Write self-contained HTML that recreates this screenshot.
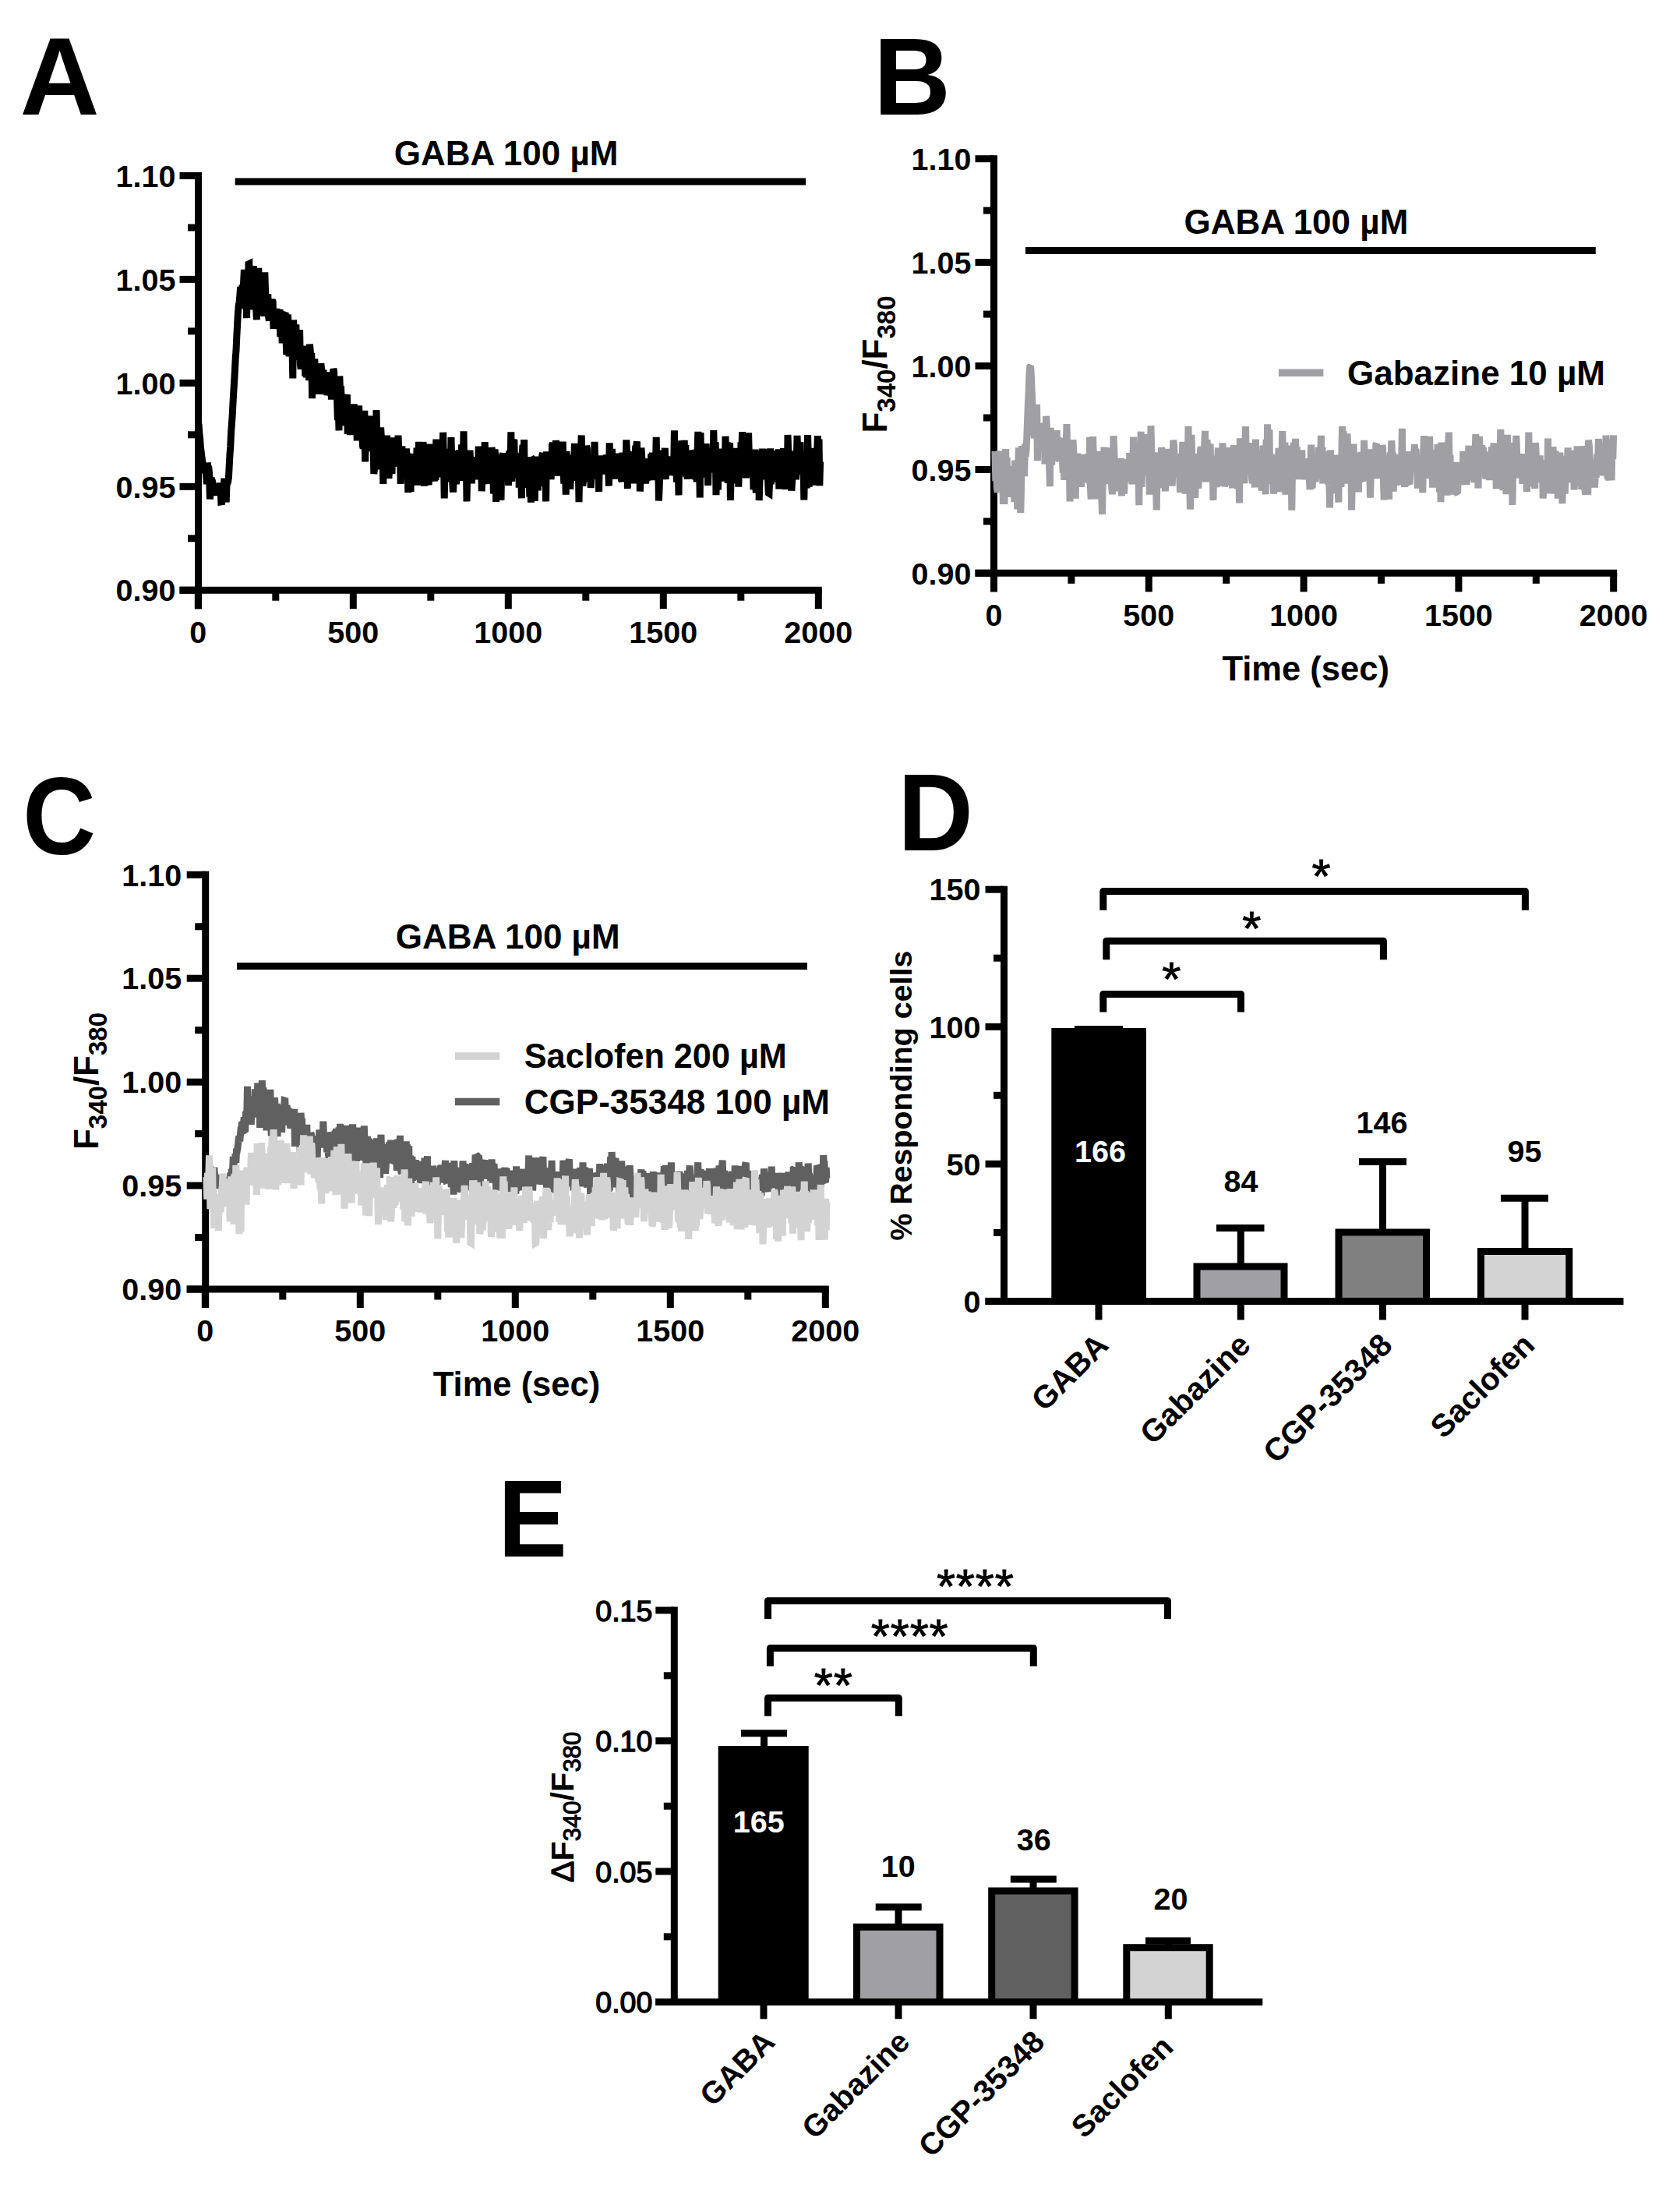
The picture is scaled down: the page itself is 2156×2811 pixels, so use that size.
<!DOCTYPE html>
<html lang="en"><head><meta charset="utf-8"><title>Figure</title>
<style>
html,body{margin:0;padding:0;background:#fff;}
svg{display:block;}
text{font-family:"Liberation Sans",sans-serif;font-weight:bold;}
</style></head><body>
<svg width="2156" height="2811" viewBox="0 0 2156 2811">
<rect width="2156" height="2811" fill="#fff"/>
<line x1="254.5" y1="221.0" x2="254.5" y2="781.2" stroke="#000" stroke-width="9"/>
<line x1="230.5" y1="757.2" x2="1054.8" y2="757.2" stroke="#000" stroke-width="9"/>
<line x1="230.5" y1="225.5" x2="254.5" y2="225.5" stroke="#000" stroke-width="9"/>
<line x1="230.5" y1="358.4" x2="254.5" y2="358.4" stroke="#000" stroke-width="9"/>
<line x1="230.5" y1="491.4" x2="254.5" y2="491.4" stroke="#000" stroke-width="9"/>
<line x1="230.5" y1="624.3" x2="254.5" y2="624.3" stroke="#000" stroke-width="9"/>
<line x1="230.5" y1="757.2" x2="254.5" y2="757.2" stroke="#000" stroke-width="9"/>
<line x1="241.0" y1="292.0" x2="254.5" y2="292.0" stroke="#000" stroke-width="9"/>
<line x1="241.0" y1="424.9" x2="254.5" y2="424.9" stroke="#000" stroke-width="9"/>
<line x1="241.0" y1="557.8" x2="254.5" y2="557.8" stroke="#000" stroke-width="9"/>
<line x1="241.0" y1="690.8" x2="254.5" y2="690.8" stroke="#000" stroke-width="9"/>
<line x1="254.3" y1="757.2" x2="254.3" y2="781.2" stroke="#000" stroke-width="9"/>
<line x1="453.3" y1="757.2" x2="453.3" y2="781.2" stroke="#000" stroke-width="9"/>
<line x1="652.3" y1="757.2" x2="652.3" y2="781.2" stroke="#000" stroke-width="9"/>
<line x1="851.3" y1="757.2" x2="851.3" y2="781.2" stroke="#000" stroke-width="9"/>
<line x1="1050.3" y1="757.2" x2="1050.3" y2="781.2" stroke="#000" stroke-width="9"/>
<line x1="353.8" y1="757.2" x2="353.8" y2="770.7" stroke="#000" stroke-width="9"/>
<line x1="552.8" y1="757.2" x2="552.8" y2="770.7" stroke="#000" stroke-width="9"/>
<line x1="751.8" y1="757.2" x2="751.8" y2="770.7" stroke="#000" stroke-width="9"/>
<line x1="950.8" y1="757.2" x2="950.8" y2="770.7" stroke="#000" stroke-width="9"/>
<text x="225.5" y="239.7" font-size="39.5" text-anchor="end" fill="#000">1.10</text>
<text x="225.5" y="372.6" font-size="39.5" text-anchor="end" fill="#000">1.05</text>
<text x="225.5" y="505.6" font-size="39.5" text-anchor="end" fill="#000">1.00</text>
<text x="225.5" y="638.5" font-size="39.5" text-anchor="end" fill="#000">0.95</text>
<text x="225.5" y="771.4" font-size="39.5" text-anchor="end" fill="#000">0.90</text>
<text x="254.3" y="825.0" font-size="39.5" text-anchor="middle" fill="#000">0</text>
<text x="453.3" y="825.0" font-size="39.5" text-anchor="middle" fill="#000">500</text>
<text x="652.3" y="825.0" font-size="39.5" text-anchor="middle" fill="#000">1000</text>
<text x="851.3" y="825.0" font-size="39.5" text-anchor="middle" fill="#000">1500</text>
<text x="1050.3" y="825.0" font-size="39.5" text-anchor="middle" fill="#000">2000</text>
<polyline points="255.0,543.8 255.8,555.3 256.6,562.3 257.4,573.5 258.2,580.0 259.0,586.7 259.8,592.3 260.6,595.5 261.4,602.9 262.2,596.5 263.0,606.8 263.8,603.9 264.6,611.5 265.4,621.2 266.2,593.8 267.0,599.0 267.8,599.9 268.6,607.4 269.4,640.5 270.2,624.2 271.0,613.2 271.8,615.4 272.6,617.7 273.4,622.6 274.2,635.9 275.0,624.4 275.8,627.3 276.6,628.1 277.4,631.0 278.2,620.1 279.0,626.6 279.8,635.6 280.6,625.0 281.4,622.6 282.2,623.8 283.0,619.9 283.8,643.9 284.6,643.8 285.4,633.8 286.2,621.9 287.0,638.1 287.8,613.7 288.6,623.3 289.4,629.4 290.2,644.4 291.0,621.3 291.8,620.2 292.6,618.1 293.4,612.9 294.2,597.9 295.0,583.1 295.8,572.5 296.6,554.6 297.4,544.2 298.2,532.7 299.0,516.9 299.8,503.1 300.6,490.4 301.4,476.3 302.2,459.8 303.0,449.7 303.8,431.8 304.6,417.1 305.4,401.8 306.2,392.1 307.0,388.0 307.8,380.3 308.6,368.0 309.4,385.6 310.2,386.1 311.0,365.5 311.8,378.9 312.6,362.2 313.4,345.9 314.2,396.2 315.0,361.1 315.8,372.4 316.6,408.2 317.4,354.6 318.2,393.6 319.0,338.9 319.8,338.5 320.6,387.2 321.4,363.6 322.2,364.1 323.0,376.7 323.8,350.6 324.6,397.4 325.4,341.1 326.2,384.9 327.0,358.0 327.8,350.0 328.6,394.8 329.4,410.2 330.2,371.6 331.0,372.7 331.8,343.8 332.6,402.7 333.4,401.6 334.2,365.6 335.0,372.7 335.8,349.8 336.6,381.1 337.4,373.6 338.2,386.2 339.0,405.8 339.8,349.3 340.6,373.6 341.4,393.3 342.2,402.2 343.0,402.7 343.8,377.4 344.6,406.1 345.4,411.7 346.2,384.1 347.0,394.2 347.8,383.5 348.6,402.7 349.4,385.0 350.2,387.3 351.0,422.0 351.8,407.7 352.6,408.5 353.4,400.1 354.2,395.8 355.0,418.3 355.8,406.0 356.6,417.5 357.4,416.0 358.2,400.2 359.0,397.0 359.8,432.2 360.6,412.7 361.4,407.6 362.2,440.3 363.0,418.7 363.8,420.2 364.6,416.7 365.4,402.3 366.2,401.3 367.0,433.9 367.8,455.1 368.6,443.6 369.4,403.5 370.2,415.9 371.0,457.2 371.8,454.0 372.6,429.3 373.4,431.7 374.2,420.5 375.0,448.4 375.8,485.5 376.6,410.6 377.4,425.7 378.2,453.9 379.0,461.4 379.8,416.3 380.6,442.3 381.4,450.0 382.2,452.1 383.0,433.5 383.8,457.1 384.6,423.0 385.4,467.4 386.2,473.5 387.0,462.0 387.8,459.7 388.6,449.5 389.4,443.7 390.2,471.6 391.0,453.1 391.8,482.6 392.6,470.9 393.4,484.3 394.2,453.0 395.0,444.1 395.8,462.5 396.6,488.1 397.4,441.6 398.2,449.6 399.0,467.5 399.8,452.8 400.6,511.2 401.4,470.5 402.2,487.3 403.0,490.5 403.8,460.4 404.6,485.9 405.4,486.4 406.2,479.7 407.0,484.4 407.8,474.8 408.6,466.4 409.4,505.7 410.2,499.0 411.0,484.4 411.8,466.4 412.6,473.1 413.4,476.7 414.2,495.3 415.0,474.7 415.8,504.6 416.6,498.9 417.4,489.8 418.2,505.4 419.0,477.3 419.8,507.2 420.6,502.6 421.4,498.1 422.2,496.6 423.0,507.2 423.8,501.2 424.6,477.3 425.4,512.6 426.2,485.2 427.0,511.2 427.8,473.0 428.6,476.8 429.4,507.7 430.2,509.9 431.0,486.4 431.8,498.6 432.6,513.6 433.4,539.0 434.2,517.7 435.0,552.4 435.8,482.5 436.6,503.8 437.4,495.1 438.2,512.6 439.0,505.4 439.8,525.1 440.6,516.5 441.4,522.4 442.2,516.6 443.0,546.1 443.8,511.7 444.6,510.1 445.4,506.4 446.2,557.0 447.0,523.6 447.8,525.6 448.6,534.9 449.4,558.2 450.2,519.2 451.0,532.4 451.8,530.5 452.6,521.6 453.4,550.5 454.2,518.4 455.0,540.5 455.8,528.4 456.6,525.1 457.4,521.1 458.2,565.4 459.0,531.4 459.8,545.4 460.6,520.5 461.4,542.8 462.2,555.9 463.0,539.8 463.8,546.4 464.6,527.2 465.4,571.4 466.2,575.2 467.0,553.2 467.8,526.7 468.6,592.4 469.4,564.4 470.2,564.8 471.0,550.7 471.8,574.2 472.6,533.6 473.4,548.6 474.2,546.2 475.0,554.0 475.8,559.9 476.6,561.8 477.4,579.1 478.2,533.6 479.0,563.9 479.8,608.0 480.6,600.6 481.4,547.9 482.2,580.5 483.0,526.1 483.8,565.4 484.6,602.5 485.4,563.3 486.2,557.1 487.0,573.7 487.8,563.7 488.6,548.6 489.4,560.9 490.2,558.8 491.0,579.6 491.8,620.8 492.6,575.7 493.4,606.3 494.2,583.6 495.0,569.7 495.8,570.2 496.6,558.7 497.4,580.9 498.2,581.6 499.0,613.8 499.8,588.7 500.6,580.6 501.4,577.7 502.2,577.6 503.0,608.1 503.8,561.4 504.6,571.8 505.4,590.8 506.2,586.3 507.0,596.1 507.8,597.5 508.6,590.1 509.4,576.6 510.2,595.6 511.0,558.7 511.8,579.5 512.6,589.2 513.4,575.0 514.2,620.9 515.0,597.7 515.8,572.4 516.6,585.8 517.4,593.2 518.2,598.4 519.0,606.0 519.8,588.7 520.6,591.3 521.4,575.5 522.2,587.9 523.0,588.3 523.8,631.8 524.6,611.4 525.4,600.2 526.2,588.0 527.0,630.8 527.8,596.3 528.6,585.1 529.4,582.6 530.2,604.9 531.0,603.6 531.8,609.0 532.6,610.6 533.4,607.8 534.2,618.6 535.0,574.7 535.8,622.7 536.6,599.3 537.4,566.8 538.2,603.6 539.0,594.1 539.8,619.2 540.6,615.7 541.4,589.3 542.2,602.9 543.0,567.0 543.8,584.4 544.6,623.7 545.4,575.0 546.2,592.2 547.0,613.3 547.8,609.7 548.6,617.2 549.4,616.4 550.2,622.3 551.0,569.5 551.8,603.6 552.6,588.6 553.4,594.5 554.2,589.8 555.0,602.9 555.8,585.2 556.6,612.0 557.4,617.2 558.2,599.5 559.0,616.1 559.8,563.6 560.6,606.1 561.4,602.8 562.2,600.4 563.0,587.2 563.8,603.6 564.6,612.0 565.4,589.2 566.2,606.3 567.0,595.4 567.8,612.0 568.6,554.7 569.4,585.3 570.2,639.5 571.0,603.6 571.8,576.6 572.6,589.6 573.4,590.7 574.2,618.3 575.0,575.8 575.8,592.4 576.6,603.8 577.4,592.0 578.2,612.9 579.0,561.1 579.8,595.8 580.6,616.2 581.4,631.5 582.2,617.2 583.0,610.6 583.8,596.5 584.6,578.1 585.4,621.2 586.2,607.8 587.0,602.8 587.8,605.0 588.6,603.9 589.4,577.1 590.2,616.9 591.0,592.4 591.8,612.0 592.6,570.4 593.4,580.9 594.2,612.5 595.0,553.3 595.8,611.0 596.6,615.8 597.4,595.1 598.2,580.1 599.0,643.4 599.8,602.2 600.6,587.3 601.4,582.5 602.2,593.6 603.0,577.7 603.8,598.0 604.6,596.6 605.4,620.3 606.2,595.9 607.0,602.2 607.8,603.6 608.6,586.2 609.4,606.4 610.2,611.1 611.0,609.5 611.8,603.7 612.6,592.8 613.4,615.3 614.2,572.7 615.0,602.2 615.8,586.5 616.6,596.0 617.4,576.0 618.2,630.3 619.0,585.5 619.8,614.8 620.6,584.5 621.4,612.5 622.2,567.1 623.0,610.0 623.8,615.5 624.6,617.4 625.4,586.1 626.2,616.7 627.0,620.5 627.8,591.5 628.6,613.0 629.4,590.5 630.2,610.6 631.0,574.2 631.8,579.2 632.6,586.0 633.4,633.5 634.2,624.6 635.0,576.7 635.8,585.9 636.6,644.0 637.4,609.1 638.2,623.1 639.0,589.8 639.8,600.4 640.6,604.7 641.4,592.2 642.2,610.2 643.0,641.6 643.8,590.7 644.6,585.1 645.4,581.4 646.2,600.2 647.0,605.5 647.8,610.3 648.6,589.1 649.4,585.2 650.2,584.5 651.0,596.1 651.8,594.4 652.6,622.8 653.4,581.1 654.2,579.7 655.0,600.8 655.8,554.3 656.6,617.9 657.4,583.2 658.2,563.6 659.0,577.7 659.8,563.9 660.6,596.8 661.4,593.5 662.2,596.7 663.0,599.6 663.8,593.7 664.6,613.3 665.4,581.4 666.2,625.7 667.0,586.4 667.8,593.2 668.6,600.1 669.4,639.3 670.2,581.3 671.0,570.9 671.8,604.8 672.6,564.0 673.4,625.6 674.2,615.5 675.0,600.2 675.8,600.2 676.6,596.7 677.4,625.8 678.2,586.2 679.0,594.9 679.8,637.5 680.6,592.2 681.4,644.7 682.2,587.7 683.0,588.3 683.8,609.2 684.6,608.6 685.4,588.9 686.2,642.8 687.0,607.4 687.8,613.1 688.6,607.9 689.4,597.5 690.2,629.3 691.0,597.6 691.8,585.7 692.6,593.0 693.4,602.5 694.2,597.0 695.0,605.5 695.8,583.7 696.6,581.5 697.4,617.9 698.2,602.0 699.0,623.9 699.8,595.7 700.6,643.4 701.4,579.4 702.2,594.6 703.0,588.0 703.8,599.7 704.6,612.5 705.4,600.4 706.2,595.8 707.0,614.8 707.8,604.5 708.6,570.7 709.4,568.8 710.2,588.5 711.0,575.5 711.8,583.0 712.6,604.2 713.4,565.0 714.2,591.0 715.0,610.3 715.8,601.7 716.6,589.4 717.4,570.8 718.2,606.9 719.0,601.5 719.8,603.9 720.6,594.8 721.4,576.2 722.2,566.7 723.0,603.9 723.8,620.5 724.6,581.7 725.4,596.9 726.2,634.7 727.0,579.0 727.8,602.9 728.6,608.9 729.4,614.5 730.2,583.5 731.0,597.2 731.8,627.7 732.6,605.9 733.4,614.1 734.2,614.7 735.0,616.5 735.8,591.0 736.6,604.5 737.4,568.9 738.2,609.3 739.0,570.6 739.8,612.2 740.6,606.9 741.4,587.3 742.2,592.8 743.0,644.1 743.8,601.6 744.6,600.8 745.4,586.4 746.2,558.5 747.0,588.3 747.8,623.6 748.6,616.7 749.4,595.3 750.2,583.7 751.0,614.8 751.8,614.1 752.6,571.9 753.4,575.9 754.2,602.5 755.0,608.1 755.8,605.1 756.6,603.3 757.4,591.8 758.2,626.0 759.0,606.7 759.8,593.6 760.6,592.6 761.4,598.2 762.2,604.6 763.0,566.8 763.8,595.6 764.6,592.0 765.4,614.4 766.2,601.5 767.0,601.7 767.8,590.9 768.6,630.9 769.4,584.5 770.2,592.6 771.0,588.1 771.8,608.5 772.6,594.8 773.4,591.3 774.2,589.2 775.0,594.7 775.8,594.4 776.6,605.8 777.4,593.1 778.2,583.7 779.0,607.0 779.8,594.1 780.6,599.5 781.4,623.5 782.2,568.4 783.0,613.3 783.8,579.0 784.6,604.1 785.4,575.8 786.2,607.2 787.0,593.0 787.8,582.1 788.6,614.7 789.4,588.3 790.2,596.2 791.0,581.5 791.8,611.5 792.6,598.7 793.4,587.8 794.2,612.0 795.0,591.2 795.8,596.9 796.6,584.8 797.4,615.0 798.2,617.9 799.0,580.6 799.8,591.7 800.6,614.4 801.4,616.1 802.2,596.0 803.0,605.9 803.8,564.4 804.6,582.6 805.4,626.9 806.2,580.5 807.0,582.1 807.8,592.4 808.6,610.8 809.4,602.1 810.2,612.0 811.0,591.8 811.8,608.0 812.6,602.5 813.4,592.3 814.2,620.4 815.0,587.4 815.8,571.8 816.6,573.8 817.4,566.3 818.2,613.7 819.0,576.4 819.8,586.7 820.6,588.6 821.4,630.5 822.2,611.3 823.0,574.6 823.8,587.7 824.6,597.6 825.4,598.9 826.2,592.6 827.0,588.4 827.8,604.0 828.6,620.2 829.4,612.7 830.2,600.6 831.0,616.5 831.8,601.8 832.6,597.1 833.4,602.8 834.2,594.7 835.0,594.2 835.8,582.4 836.6,616.2 837.4,580.5 838.2,590.9 839.0,613.4 839.8,610.0 840.6,591.3 841.4,598.8 842.2,560.8 843.0,607.0 843.8,590.4 844.6,585.3 845.4,642.5 846.2,624.7 847.0,601.4 847.8,591.0 848.6,606.6 849.4,595.5 850.2,577.6 851.0,586.7 851.8,608.2 852.6,593.7 853.4,574.8 854.2,615.2 855.0,589.7 855.8,600.6 856.6,601.3 857.4,609.9 858.2,588.3 859.0,595.8 859.8,588.2 860.6,587.2 861.4,600.3 862.2,588.1 863.0,603.6 863.8,609.5 864.6,607.4 865.4,552.3 866.2,608.0 867.0,578.8 867.8,603.7 868.6,618.6 869.4,583.4 870.2,590.1 871.0,635.4 871.8,565.3 872.6,595.5 873.4,608.1 874.2,602.5 875.0,578.2 875.8,589.3 876.6,609.6 877.4,599.8 878.2,564.9 879.0,604.9 879.8,571.0 880.6,611.6 881.4,605.5 882.2,614.6 883.0,593.4 883.8,600.5 884.6,585.7 885.4,583.9 886.2,579.0 887.0,580.2 887.8,588.3 888.6,610.2 889.4,610.6 890.2,596.4 891.0,596.1 891.8,592.3 892.6,604.9 893.4,585.8 894.2,618.3 895.0,584.0 895.8,553.8 896.6,607.5 897.4,584.0 898.2,638.4 899.0,555.2 899.8,600.5 900.6,593.9 901.4,593.0 902.2,612.0 903.0,603.9 903.8,607.2 904.6,585.4 905.4,589.3 906.2,569.0 907.0,612.7 907.8,573.7 908.6,622.9 909.4,589.7 910.2,587.5 911.0,587.3 911.8,578.1 912.6,592.4 913.4,583.4 914.2,576.9 915.0,606.4 915.8,552.0 916.6,595.8 917.4,592.5 918.2,567.4 919.0,635.2 919.8,583.9 920.6,611.0 921.4,628.3 922.2,603.4 923.0,603.6 923.8,616.4 924.6,596.9 925.4,575.6 926.2,604.9 927.0,592.2 927.8,617.5 928.6,601.8 929.4,598.7 930.2,615.9 931.0,559.7 931.8,600.0 932.6,591.5 933.4,613.1 934.2,619.5 935.0,605.4 935.8,570.2 936.6,568.2 937.4,642.0 938.2,603.8 939.0,617.7 939.8,605.7 940.6,594.1 941.4,588.6 942.2,587.0 943.0,574.9 943.8,601.0 944.6,590.0 945.4,603.2 946.2,620.0 947.0,589.6 947.8,624.6 948.6,595.5 949.4,590.2 950.2,612.4 951.0,567.3 951.8,580.3 952.6,554.1 953.4,581.0 954.2,599.2 955.0,589.1 955.8,589.0 956.6,588.2 957.4,613.3 958.2,596.0 959.0,590.8 959.8,584.2 960.6,555.3 961.4,589.6 962.2,590.7 963.0,588.9 963.8,607.8 964.6,582.5 965.4,612.0 966.2,578.0 967.0,628.1 967.8,611.5 968.6,576.7 969.4,589.0 970.2,632.3 971.0,622.2 971.8,580.3 972.6,581.7 973.4,585.3 974.2,642.0 975.0,615.0 975.8,609.4 976.6,578.1 977.4,615.3 978.2,575.6 979.0,607.9 979.8,601.4 980.6,608.2 981.4,596.6 982.2,610.0 983.0,575.8 983.8,596.3 984.6,593.3 985.4,611.8 986.2,632.5 987.0,633.0 987.8,613.5 988.6,575.3 989.4,621.3 990.2,590.2 991.0,613.5 991.8,602.3 992.6,582.0 993.4,599.3 994.2,591.8 995.0,601.0 995.8,578.4 996.6,602.0 997.4,603.1 998.2,618.6 999.0,576.4 999.8,627.4 1000.6,594.7 1001.4,615.9 1002.2,594.2 1003.0,609.3 1003.8,605.6 1004.6,582.3 1005.4,575.3 1006.2,614.9 1007.0,609.3 1007.8,627.8 1008.6,587.1 1009.4,575.7 1010.2,619.0 1011.0,558.0 1011.8,585.0 1012.6,596.1 1013.4,584.1 1014.2,580.2 1015.0,579.1 1015.8,629.6 1016.6,617.4 1017.4,579.6 1018.2,598.4 1019.0,586.2 1019.8,584.0 1020.6,596.9 1021.4,615.4 1022.2,599.1 1023.0,558.8 1023.8,580.9 1024.6,586.6 1025.4,578.4 1026.2,588.6 1027.0,567.0 1027.8,604.5 1028.6,596.8 1029.4,602.4 1030.2,608.6 1031.0,590.9 1031.8,641.5 1032.6,604.9 1033.4,583.3 1034.2,603.2 1035.0,625.6 1035.8,621.1 1036.6,558.0 1037.4,594.5 1038.2,624.6 1039.0,595.3 1039.8,595.5 1040.6,574.9 1041.4,603.2 1042.2,600.8 1043.0,597.2 1043.8,578.7 1044.6,608.7 1045.4,596.3 1046.2,622.5 1047.0,585.6 1047.8,603.8 1048.6,580.5 1049.4,559.2 1050.2,601.5 1051.0,563.5 1051.8,623.2 1052.6,592.5" fill="none" stroke="#000" stroke-width="9" stroke-linejoin="miter" stroke-miterlimit="2"/>
<line x1="301.7" y1="233.0" x2="1034.0" y2="233.0" stroke="#000" stroke-width="9"/>
<text x="505.7" y="211.7" font-size="44" text-anchor="start" fill="#000">GABA 100 µM</text>
<text transform="translate(25.5,146.7) scale(1.0,1)" font-size="141.5">A</text>
<line x1="1275.5" y1="199.2" x2="1275.5" y2="759.3" stroke="#000" stroke-width="9"/>
<line x1="1251.5" y1="735.3" x2="2075.2" y2="735.3" stroke="#000" stroke-width="9"/>
<line x1="1251.5" y1="203.7" x2="1275.5" y2="203.7" stroke="#000" stroke-width="9"/>
<line x1="1251.5" y1="336.6" x2="1275.5" y2="336.6" stroke="#000" stroke-width="9"/>
<line x1="1251.5" y1="469.5" x2="1275.5" y2="469.5" stroke="#000" stroke-width="9"/>
<line x1="1251.5" y1="602.4" x2="1275.5" y2="602.4" stroke="#000" stroke-width="9"/>
<line x1="1251.5" y1="735.3" x2="1275.5" y2="735.3" stroke="#000" stroke-width="9"/>
<line x1="1262.0" y1="270.1" x2="1275.5" y2="270.1" stroke="#000" stroke-width="9"/>
<line x1="1262.0" y1="403.1" x2="1275.5" y2="403.1" stroke="#000" stroke-width="9"/>
<line x1="1262.0" y1="536.0" x2="1275.5" y2="536.0" stroke="#000" stroke-width="9"/>
<line x1="1262.0" y1="668.9" x2="1275.5" y2="668.9" stroke="#000" stroke-width="9"/>
<line x1="1275.5" y1="735.3" x2="1275.5" y2="759.3" stroke="#000" stroke-width="9"/>
<line x1="1474.3" y1="735.3" x2="1474.3" y2="759.3" stroke="#000" stroke-width="9"/>
<line x1="1673.1" y1="735.3" x2="1673.1" y2="759.3" stroke="#000" stroke-width="9"/>
<line x1="1871.9" y1="735.3" x2="1871.9" y2="759.3" stroke="#000" stroke-width="9"/>
<line x1="2070.7" y1="735.3" x2="2070.7" y2="759.3" stroke="#000" stroke-width="9"/>
<line x1="1374.9" y1="735.3" x2="1374.9" y2="748.8" stroke="#000" stroke-width="9"/>
<line x1="1573.7" y1="735.3" x2="1573.7" y2="748.8" stroke="#000" stroke-width="9"/>
<line x1="1772.5" y1="735.3" x2="1772.5" y2="748.8" stroke="#000" stroke-width="9"/>
<line x1="1971.3" y1="735.3" x2="1971.3" y2="748.8" stroke="#000" stroke-width="9"/>
<text x="1246.5" y="217.9" font-size="39.5" text-anchor="end" fill="#000">1.10</text>
<text x="1246.5" y="350.8" font-size="39.5" text-anchor="end" fill="#000">1.05</text>
<text x="1246.5" y="483.7" font-size="39.5" text-anchor="end" fill="#000">1.00</text>
<text x="1246.5" y="616.6" font-size="39.5" text-anchor="end" fill="#000">0.95</text>
<text x="1246.5" y="749.5" font-size="39.5" text-anchor="end" fill="#000">0.90</text>
<text x="1275.5" y="802.5" font-size="39.5" text-anchor="middle" fill="#000">0</text>
<text x="1474.3" y="802.5" font-size="39.5" text-anchor="middle" fill="#000">500</text>
<text x="1673.1" y="802.5" font-size="39.5" text-anchor="middle" fill="#000">1000</text>
<text x="1871.9" y="802.5" font-size="39.5" text-anchor="middle" fill="#000">1500</text>
<text x="2070.7" y="802.5" font-size="39.5" text-anchor="middle" fill="#000">2000</text>
<polyline points="1277.0,579.0 1277.8,617.1 1278.6,600.6 1279.4,626.3 1280.2,631.7 1281.0,612.2 1281.8,589.1 1282.6,578.6 1283.4,618.8 1284.2,596.3 1285.0,606.0 1285.8,608.3 1286.6,597.3 1287.4,646.9 1288.2,609.1 1289.0,647.0 1289.8,593.1 1290.6,576.1 1291.4,619.8 1292.2,586.9 1293.0,620.1 1293.8,598.7 1294.6,611.4 1295.4,598.2 1296.2,638.0 1297.0,598.1 1297.8,617.3 1298.6,598.2 1299.4,605.8 1300.2,612.3 1301.0,608.1 1301.8,644.2 1302.6,590.5 1303.4,615.0 1304.2,630.3 1305.0,620.3 1305.8,653.4 1306.6,598.6 1307.4,574.5 1308.2,636.1 1309.0,621.7 1309.8,658.2 1310.6,624.5 1311.4,572.0 1312.2,580.7 1313.0,587.0 1313.8,597.2 1314.6,611.1 1315.4,569.3 1316.2,585.8 1317.0,577.8 1317.8,561.2 1318.6,538.7 1319.4,518.5 1320.2,502.1 1321.0,479.6 1321.8,470.4 1322.6,469.6 1323.4,482.8 1324.2,502.7 1325.0,519.9 1325.8,534.4 1326.6,554.6 1327.4,561.9 1328.2,527.8 1329.0,544.6 1329.8,552.6 1330.6,518.9 1331.4,591.2 1332.2,545.3 1333.0,578.3 1333.8,573.3 1334.6,542.5 1335.4,571.2 1336.2,548.9 1337.0,546.3 1337.8,563.1 1338.6,572.0 1339.4,555.2 1340.2,553.2 1341.0,595.3 1341.8,569.9 1342.6,533.8 1343.4,549.0 1344.2,554.5 1345.0,569.1 1345.8,549.3 1346.6,594.4 1347.4,624.2 1348.2,548.9 1349.0,594.0 1349.8,596.4 1350.6,563.7 1351.4,574.5 1352.2,581.8 1353.0,566.4 1353.8,552.6 1354.6,557.1 1355.4,591.0 1356.2,552.0 1357.0,586.3 1357.8,576.8 1358.6,567.0 1359.4,592.4 1360.2,577.3 1361.0,585.2 1361.8,564.3 1362.6,563.6 1363.4,588.4 1364.2,606.6 1365.0,582.5 1365.8,615.9 1366.6,583.5 1367.4,581.1 1368.2,570.7 1369.0,544.1 1369.8,598.8 1370.6,601.7 1371.4,583.0 1372.2,569.5 1373.0,643.5 1373.8,577.3 1374.6,593.3 1375.4,613.6 1376.2,585.0 1377.0,564.2 1377.8,578.8 1378.6,597.3 1379.4,615.0 1380.2,639.7 1381.0,583.0 1381.8,620.4 1382.6,581.5 1383.4,621.2 1384.2,592.6 1385.0,618.9 1385.8,582.8 1386.6,606.8 1387.4,624.9 1388.2,593.0 1389.0,603.6 1389.8,599.7 1390.6,618.5 1391.4,583.8 1392.2,585.2 1393.0,602.4 1393.8,604.4 1394.6,585.5 1395.4,596.8 1396.2,585.6 1397.0,604.1 1397.8,620.2 1398.6,561.0 1399.4,624.6 1400.2,640.4 1401.0,580.8 1401.8,597.4 1402.6,560.0 1403.4,589.5 1404.2,612.9 1405.0,593.7 1405.8,640.5 1406.6,597.3 1407.4,596.7 1408.2,614.4 1409.0,579.1 1409.8,586.3 1410.6,620.2 1411.4,607.6 1412.2,609.4 1413.0,612.5 1413.8,637.0 1414.6,659.9 1415.4,602.6 1416.2,612.4 1417.0,573.7 1417.8,601.9 1418.6,592.4 1419.4,621.1 1420.2,594.0 1421.0,600.0 1421.8,620.0 1422.6,610.8 1423.4,574.3 1424.2,612.3 1425.0,588.1 1425.8,585.1 1426.6,622.7 1427.4,634.1 1428.2,621.1 1429.0,559.3 1429.8,577.4 1430.6,602.1 1431.4,603.3 1432.2,593.3 1433.0,606.1 1433.8,603.1 1434.6,597.3 1435.4,630.3 1436.2,613.0 1437.0,591.5 1437.8,620.8 1438.6,587.8 1439.4,636.4 1440.2,615.0 1441.0,633.5 1441.8,605.6 1442.6,633.7 1443.4,608.6 1444.2,590.1 1445.0,605.4 1445.8,589.3 1446.6,595.2 1447.4,618.0 1448.2,610.8 1449.0,618.1 1449.8,581.0 1450.6,602.0 1451.4,607.6 1452.2,604.9 1453.0,621.2 1453.8,603.1 1454.6,560.7 1455.4,587.1 1456.2,593.7 1457.0,609.7 1457.8,588.5 1458.6,611.4 1459.4,602.3 1460.2,611.6 1461.0,604.8 1461.8,648.2 1462.6,569.6 1463.4,590.7 1464.2,553.7 1465.0,624.8 1465.8,594.4 1466.6,600.6 1467.4,603.6 1468.2,603.1 1469.0,557.1 1469.8,590.4 1470.6,585.6 1471.4,598.3 1472.2,609.7 1473.0,578.9 1473.8,588.5 1474.6,604.0 1475.4,634.7 1476.2,596.3 1477.0,546.2 1477.8,582.6 1478.6,608.0 1479.4,620.5 1480.2,607.6 1481.0,601.5 1481.8,595.4 1482.6,600.4 1483.4,598.8 1484.2,654.3 1485.0,611.5 1485.8,580.3 1486.6,616.2 1487.4,620.8 1488.2,625.2 1489.0,609.6 1489.8,626.1 1490.6,574.0 1491.4,580.1 1492.2,593.6 1493.0,592.5 1493.8,607.2 1494.6,613.6 1495.4,630.4 1496.2,607.8 1497.0,606.0 1497.8,600.4 1498.6,575.9 1499.4,600.3 1500.2,598.0 1501.0,605.2 1501.8,593.4 1502.6,584.4 1503.4,600.4 1504.2,623.7 1505.0,601.6 1505.8,564.7 1506.6,571.4 1507.4,595.6 1508.2,595.8 1509.0,592.0 1509.8,611.4 1510.6,597.5 1511.4,598.3 1512.2,602.2 1513.0,606.5 1513.8,613.1 1514.6,631.8 1515.4,588.6 1516.2,582.4 1517.0,598.4 1517.8,566.8 1518.6,598.6 1519.4,587.6 1520.2,594.3 1521.0,633.7 1521.8,613.1 1522.6,619.5 1523.4,579.7 1524.2,605.2 1525.0,546.8 1525.8,592.0 1526.6,608.3 1527.4,653.5 1528.2,626.2 1529.0,557.8 1529.8,588.7 1530.6,597.6 1531.4,582.1 1532.2,600.0 1533.0,590.6 1533.8,638.9 1534.6,616.6 1535.4,590.6 1536.2,611.6 1537.0,612.0 1537.8,626.4 1538.6,610.9 1539.4,605.1 1540.2,583.1 1541.0,573.5 1541.8,597.8 1542.6,572.7 1543.4,608.0 1544.2,597.9 1545.0,592.2 1545.8,568.2 1546.6,552.9 1547.4,618.5 1548.2,589.1 1549.0,564.1 1549.8,581.9 1550.6,589.1 1551.4,598.1 1552.2,616.2 1553.0,569.5 1553.8,595.9 1554.6,614.6 1555.4,598.1 1556.2,600.5 1557.0,641.9 1557.8,584.9 1558.6,597.8 1559.4,606.1 1560.2,611.8 1561.0,625.2 1561.8,598.5 1562.6,589.9 1563.4,574.6 1564.2,623.7 1565.0,592.3 1565.8,590.0 1566.6,595.5 1567.4,610.5 1568.2,594.2 1569.0,568.3 1569.8,614.1 1570.6,601.3 1571.4,624.2 1572.2,620.1 1573.0,596.8 1573.8,577.3 1574.6,614.1 1575.4,594.4 1576.2,612.6 1577.0,609.7 1577.8,574.0 1578.6,605.1 1579.4,575.2 1580.2,587.6 1581.0,621.6 1581.8,625.8 1582.6,583.1 1583.4,571.0 1584.2,603.9 1585.0,612.3 1585.8,610.5 1586.6,604.7 1587.4,616.1 1588.2,627.0 1589.0,596.4 1589.8,610.4 1590.6,645.4 1591.4,562.2 1592.2,607.3 1593.0,612.5 1593.8,583.7 1594.6,585.4 1595.4,617.7 1596.2,580.5 1597.0,620.1 1597.8,577.7 1598.6,547.1 1599.4,607.1 1600.2,601.7 1601.0,596.7 1601.8,580.6 1602.6,596.0 1603.4,587.1 1604.2,568.0 1605.0,606.1 1605.8,594.3 1606.6,614.0 1607.4,620.0 1608.2,601.9 1609.0,614.2 1609.8,618.9 1610.6,625.1 1611.4,563.5 1612.2,615.7 1613.0,600.4 1613.8,601.5 1614.6,615.1 1615.4,580.1 1616.2,592.9 1617.0,610.5 1617.8,577.9 1618.6,613.8 1619.4,629.6 1620.2,592.8 1621.0,571.8 1621.8,574.3 1622.6,623.7 1623.4,595.9 1624.2,634.3 1625.0,563.9 1625.8,620.4 1626.6,544.3 1627.4,601.3 1628.2,620.9 1629.0,551.1 1629.8,613.9 1630.6,585.2 1631.4,583.0 1632.2,594.3 1633.0,610.6 1633.8,617.5 1634.6,633.6 1635.4,600.8 1636.2,624.2 1637.0,590.5 1637.8,603.4 1638.6,604.3 1639.4,608.2 1640.2,595.9 1641.0,574.8 1641.8,613.8 1642.6,631.0 1643.4,607.9 1644.2,587.2 1645.0,583.6 1645.8,553.1 1646.6,601.0 1647.4,597.4 1648.2,598.2 1649.0,567.6 1649.8,634.6 1650.6,578.3 1651.4,571.5 1652.2,622.1 1653.0,619.1 1653.8,597.0 1654.6,592.8 1655.4,573.2 1656.2,582.2 1657.0,588.4 1657.8,654.8 1658.6,595.5 1659.4,606.9 1660.2,567.7 1661.0,579.4 1661.8,614.8 1662.6,562.9 1663.4,611.8 1664.2,573.0 1665.0,605.4 1665.8,607.6 1666.6,593.2 1667.4,615.1 1668.2,593.6 1669.0,598.5 1669.8,613.1 1670.6,577.3 1671.4,599.8 1672.2,615.1 1673.0,609.6 1673.8,603.7 1674.6,597.7 1675.4,605.5 1676.2,610.1 1677.0,603.4 1677.8,590.7 1678.6,594.3 1679.4,588.3 1680.2,608.8 1681.0,628.0 1681.8,605.7 1682.6,570.6 1683.4,624.9 1684.2,626.0 1685.0,605.1 1685.8,599.8 1686.6,599.0 1687.4,600.6 1688.2,618.1 1689.0,607.4 1689.8,595.2 1690.6,601.8 1691.4,594.3 1692.2,573.8 1693.0,591.9 1693.8,614.7 1694.6,590.7 1695.4,558.8 1696.2,609.2 1697.0,573.9 1697.8,620.4 1698.6,588.1 1699.4,607.6 1700.2,596.7 1701.0,598.2 1701.8,611.7 1702.6,579.1 1703.4,609.1 1704.2,601.6 1705.0,622.4 1705.8,614.4 1706.6,651.5 1707.4,577.5 1708.2,596.7 1709.0,583.9 1709.8,605.4 1710.6,594.9 1711.4,604.3 1712.2,595.2 1713.0,633.2 1713.8,618.6 1714.6,616.1 1715.4,600.0 1716.2,583.7 1717.0,618.4 1717.8,644.5 1718.6,589.9 1719.4,600.4 1720.2,590.9 1721.0,624.8 1721.8,584.1 1722.6,546.9 1723.4,586.6 1724.2,553.5 1725.0,577.8 1725.8,615.1 1726.6,608.6 1727.4,603.6 1728.2,620.5 1729.0,556.3 1729.8,577.6 1730.6,592.0 1731.4,598.3 1732.2,600.7 1733.0,608.4 1733.8,588.0 1734.6,654.5 1735.4,607.5 1736.2,618.0 1737.0,569.6 1737.8,615.6 1738.6,620.5 1739.4,598.9 1740.2,630.1 1741.0,624.2 1741.8,585.0 1742.6,583.9 1743.4,631.4 1744.2,595.4 1745.0,607.0 1745.8,580.5 1746.6,609.8 1747.4,579.8 1748.2,599.0 1749.0,615.8 1749.8,617.3 1750.6,564.8 1751.4,590.7 1752.2,596.3 1753.0,592.3 1753.8,602.6 1754.6,598.1 1755.4,608.0 1756.2,602.3 1757.0,576.3 1757.8,609.2 1758.6,638.7 1759.4,602.0 1760.2,587.3 1761.0,590.0 1761.8,598.7 1762.6,584.1 1763.4,598.1 1764.2,583.0 1765.0,597.2 1765.8,570.7 1766.6,569.7 1767.4,613.8 1768.2,605.3 1769.0,602.3 1769.8,600.0 1770.6,577.8 1771.4,606.7 1772.2,594.5 1773.0,608.9 1773.8,571.3 1774.6,574.5 1775.4,615.9 1776.2,641.3 1777.0,612.7 1777.8,616.1 1778.6,614.9 1779.4,611.3 1780.2,620.7 1781.0,588.8 1781.8,589.6 1782.6,640.6 1783.4,593.7 1784.2,580.6 1785.0,595.0 1785.8,565.3 1786.6,584.8 1787.4,584.8 1788.2,630.5 1789.0,604.7 1789.8,582.9 1790.6,623.0 1791.4,586.5 1792.2,591.7 1793.0,584.4 1793.8,608.0 1794.6,609.5 1795.4,622.1 1796.2,591.5 1797.0,598.4 1797.8,611.8 1798.6,600.7 1799.4,549.9 1800.2,608.1 1801.0,606.4 1801.8,600.3 1802.6,624.9 1803.4,600.0 1804.2,606.3 1805.0,623.4 1805.8,586.7 1806.6,579.2 1807.4,605.5 1808.2,588.5 1809.0,621.9 1809.8,604.7 1810.6,591.3 1811.4,596.3 1812.2,581.5 1813.0,602.1 1813.8,594.3 1814.6,590.5 1815.4,570.0 1816.2,595.0 1817.0,575.9 1817.8,587.9 1818.6,594.9 1819.4,626.6 1820.2,599.6 1821.0,613.5 1821.8,614.3 1822.6,614.4 1823.4,607.1 1824.2,591.2 1825.0,589.4 1825.8,632.1 1826.6,584.2 1827.4,559.1 1828.2,612.6 1829.0,595.3 1829.8,609.4 1830.6,584.9 1831.4,613.9 1832.2,570.2 1833.0,583.2 1833.8,589.1 1834.6,559.8 1835.4,592.1 1836.2,577.0 1837.0,608.9 1837.8,598.2 1838.6,625.5 1839.4,605.2 1840.2,623.9 1841.0,592.4 1841.8,620.9 1842.6,608.5 1843.4,590.3 1844.2,622.6 1845.0,569.7 1845.8,609.0 1846.6,586.6 1847.4,631.4 1848.2,574.1 1849.0,644.3 1849.8,567.6 1850.6,609.6 1851.4,598.2 1852.2,582.8 1853.0,608.5 1853.8,617.7 1854.6,597.8 1855.4,572.6 1856.2,582.6 1857.0,635.7 1857.8,590.5 1858.6,571.7 1859.4,554.7 1860.2,601.9 1861.0,583.8 1861.8,623.8 1862.6,621.9 1863.4,595.1 1864.2,612.7 1865.0,634.7 1865.8,602.8 1866.6,609.0 1867.4,619.8 1868.2,592.9 1869.0,607.8 1869.8,632.4 1870.6,632.9 1871.4,601.9 1872.2,606.6 1873.0,610.4 1873.8,594.2 1874.6,616.1 1875.4,622.1 1876.2,594.4 1877.0,620.9 1877.8,578.8 1878.6,597.5 1879.4,597.3 1880.2,604.8 1881.0,599.0 1881.8,621.5 1882.6,616.3 1883.4,583.5 1884.2,584.7 1885.0,571.9 1885.8,603.0 1886.6,600.3 1887.4,585.9 1888.2,616.0 1889.0,600.5 1889.8,584.7 1890.6,592.1 1891.4,611.1 1892.2,618.8 1893.0,589.3 1893.8,557.2 1894.6,577.0 1895.4,610.2 1896.2,573.5 1897.0,626.5 1897.8,585.3 1898.6,559.8 1899.4,590.2 1900.2,575.0 1901.0,592.3 1901.8,571.3 1902.6,591.8 1903.4,573.8 1904.2,601.8 1905.0,602.4 1905.8,581.5 1906.6,614.5 1907.4,609.5 1908.2,605.6 1909.0,579.7 1909.8,595.6 1910.6,600.8 1911.4,616.1 1912.2,597.4 1913.0,586.9 1913.8,582.2 1914.6,573.4 1915.4,605.1 1916.2,593.9 1917.0,568.4 1917.8,583.4 1918.6,579.4 1919.4,575.5 1920.2,627.2 1921.0,590.4 1921.8,602.0 1922.6,593.2 1923.4,598.9 1924.2,573.6 1925.0,592.5 1925.8,550.9 1926.6,573.7 1927.4,616.6 1928.2,587.0 1929.0,629.1 1929.8,583.7 1930.6,608.5 1931.4,612.8 1932.2,574.7 1933.0,634.2 1933.8,602.0 1934.6,557.9 1935.4,631.0 1936.2,580.9 1937.0,568.7 1937.8,571.8 1938.6,586.3 1939.4,574.6 1940.2,584.0 1941.0,647.9 1941.8,588.4 1942.6,611.3 1943.4,613.3 1944.2,587.2 1945.0,600.1 1945.8,558.8 1946.6,580.3 1947.4,597.3 1948.2,608.8 1949.0,609.0 1949.8,604.1 1950.6,589.0 1951.4,590.7 1952.2,588.3 1953.0,582.4 1953.8,620.6 1954.6,615.8 1955.4,601.0 1956.2,611.0 1957.0,604.2 1957.8,615.4 1958.6,614.3 1959.4,630.9 1960.2,595.4 1961.0,615.9 1961.8,554.5 1962.6,608.2 1963.4,624.4 1964.2,595.5 1965.0,576.1 1965.8,581.4 1966.6,620.4 1967.4,585.8 1968.2,599.1 1969.0,610.4 1969.8,626.9 1970.6,568.0 1971.4,586.7 1972.2,590.6 1973.0,608.6 1973.8,595.9 1974.6,589.9 1975.4,600.2 1976.2,584.3 1977.0,612.5 1977.8,606.2 1978.6,619.1 1979.4,590.0 1980.2,639.5 1981.0,626.2 1981.8,618.8 1982.6,612.6 1983.4,602.1 1984.2,621.2 1985.0,607.6 1985.8,633.2 1986.6,562.5 1987.4,631.5 1988.2,613.9 1989.0,611.3 1989.8,616.3 1990.6,633.0 1991.4,628.6 1992.2,613.1 1993.0,573.2 1993.8,595.8 1994.6,587.4 1995.4,605.2 1996.2,578.6 1997.0,596.0 1997.8,624.4 1998.6,598.8 1999.4,639.7 2000.2,609.5 2001.0,596.0 2001.8,580.7 2002.6,594.5 2003.4,603.2 2004.2,602.5 2005.0,646.2 2005.8,586.0 2006.6,591.8 2007.4,585.7 2008.2,633.4 2009.0,620.0 2009.8,603.5 2010.6,587.3 2011.4,589.1 2012.2,574.5 2013.0,588.4 2013.8,619.0 2014.6,610.5 2015.4,578.5 2016.2,606.2 2017.0,605.6 2017.8,600.5 2018.6,591.2 2019.4,598.0 2020.2,628.5 2021.0,584.4 2021.8,578.1 2022.6,593.8 2023.4,611.2 2024.2,572.4 2025.0,588.2 2025.8,573.3 2026.6,623.1 2027.4,591.6 2028.2,596.7 2029.0,596.4 2029.8,627.9 2030.6,572.2 2031.4,589.2 2032.2,606.9 2033.0,574.0 2033.8,626.4 2034.6,634.5 2035.4,576.7 2036.2,578.7 2037.0,599.8 2037.8,634.8 2038.6,564.5 2039.4,572.0 2040.2,589.1 2041.0,620.7 2041.8,591.8 2042.6,611.7 2043.4,599.9 2044.2,621.5 2045.0,604.6 2045.8,592.7 2046.6,625.5 2047.4,604.9 2048.2,612.8 2049.0,595.5 2049.8,582.9 2050.6,601.2 2051.4,563.0 2052.2,578.9 2053.0,581.3 2053.8,584.5 2054.6,589.7 2055.4,610.2 2056.2,578.3 2057.0,584.8 2057.8,605.4 2058.6,577.8 2059.4,588.8 2060.2,601.7 2061.0,558.6 2061.8,607.8 2062.6,606.9 2063.4,614.8 2064.2,583.0 2065.0,616.7 2065.8,589.9 2066.6,594.9 2067.4,604.7 2068.2,616.3 2069.0,563.6 2069.8,589.4 2070.6,558.4" fill="none" stroke="#a0a0a4" stroke-width="9" stroke-linejoin="miter" stroke-miterlimit="2"/>
<line x1="1316.0" y1="321.4" x2="2047.8" y2="321.4" stroke="#000" stroke-width="9"/>
<text x="1519.5" y="299.6" font-size="44" text-anchor="start" fill="#000">GABA 100 µM</text>
<text transform="translate(1121.1,146.7) scale(0.969,1)" font-size="141.5">B</text>
<text transform="translate(1138.3,467.5) rotate(-90)" font-size="44" text-anchor="middle">F<tspan font-size="33" dy="10.7">340</tspan><tspan dy="-10.7">/F</tspan><tspan font-size="33" dy="10.7">380</tspan></text>
<text x="1675.7" y="873.4" font-size="43.5" text-anchor="middle" fill="#000">Time (sec)</text>
<line x1="1641.0" y1="478.2" x2="1698.4" y2="478.2" stroke="#a0a0a4" stroke-width="9.5"/>
<text x="1729.0" y="494.0" font-size="44" text-anchor="start" fill="#000">Gabazine 10 µM</text>
<line x1="263.7" y1="1117.8" x2="263.7" y2="1678.0" stroke="#000" stroke-width="9"/>
<line x1="239.7" y1="1654.0" x2="1063.8" y2="1654.0" stroke="#000" stroke-width="9"/>
<line x1="239.7" y1="1122.3" x2="263.7" y2="1122.3" stroke="#000" stroke-width="9"/>
<line x1="239.7" y1="1255.2" x2="263.7" y2="1255.2" stroke="#000" stroke-width="9"/>
<line x1="239.7" y1="1388.2" x2="263.7" y2="1388.2" stroke="#000" stroke-width="9"/>
<line x1="239.7" y1="1521.1" x2="263.7" y2="1521.1" stroke="#000" stroke-width="9"/>
<line x1="239.7" y1="1654.0" x2="263.7" y2="1654.0" stroke="#000" stroke-width="9"/>
<line x1="250.2" y1="1188.8" x2="263.7" y2="1188.8" stroke="#000" stroke-width="9"/>
<line x1="250.2" y1="1321.7" x2="263.7" y2="1321.7" stroke="#000" stroke-width="9"/>
<line x1="250.2" y1="1454.6" x2="263.7" y2="1454.6" stroke="#000" stroke-width="9"/>
<line x1="250.2" y1="1587.6" x2="263.7" y2="1587.6" stroke="#000" stroke-width="9"/>
<line x1="263.3" y1="1654.0" x2="263.3" y2="1678.0" stroke="#000" stroke-width="9"/>
<line x1="462.3" y1="1654.0" x2="462.3" y2="1678.0" stroke="#000" stroke-width="9"/>
<line x1="661.3" y1="1654.0" x2="661.3" y2="1678.0" stroke="#000" stroke-width="9"/>
<line x1="860.3" y1="1654.0" x2="860.3" y2="1678.0" stroke="#000" stroke-width="9"/>
<line x1="1059.3" y1="1654.0" x2="1059.3" y2="1678.0" stroke="#000" stroke-width="9"/>
<line x1="362.8" y1="1654.0" x2="362.8" y2="1667.5" stroke="#000" stroke-width="9"/>
<line x1="561.8" y1="1654.0" x2="561.8" y2="1667.5" stroke="#000" stroke-width="9"/>
<line x1="760.8" y1="1654.0" x2="760.8" y2="1667.5" stroke="#000" stroke-width="9"/>
<line x1="959.8" y1="1654.0" x2="959.8" y2="1667.5" stroke="#000" stroke-width="9"/>
<text x="233.2" y="1136.5" font-size="39.5" text-anchor="end" fill="#000">1.10</text>
<text x="233.2" y="1269.4" font-size="39.5" text-anchor="end" fill="#000">1.05</text>
<text x="233.2" y="1402.4" font-size="39.5" text-anchor="end" fill="#000">1.00</text>
<text x="233.2" y="1535.3" font-size="39.5" text-anchor="end" fill="#000">0.95</text>
<text x="233.2" y="1668.2" font-size="39.5" text-anchor="end" fill="#000">0.90</text>
<text x="263.3" y="1720.5" font-size="39.5" text-anchor="middle" fill="#000">0</text>
<text x="462.3" y="1720.5" font-size="39.5" text-anchor="middle" fill="#000">500</text>
<text x="661.3" y="1720.5" font-size="39.5" text-anchor="middle" fill="#000">1000</text>
<text x="860.3" y="1720.5" font-size="39.5" text-anchor="middle" fill="#000">1500</text>
<text x="1059.3" y="1720.5" font-size="39.5" text-anchor="middle" fill="#000">2000</text>
<polyline points="265.0,1515.3 265.7,1524.0 266.4,1516.0 267.1,1510.4 267.8,1514.7 268.5,1515.7 269.2,1499.0 269.9,1499.2 270.6,1503.3 271.3,1507.2 272.0,1503.5 272.7,1506.7 273.4,1510.1 274.1,1508.5 274.8,1497.8 275.5,1506.4 276.2,1508.1 276.9,1517.6 277.6,1520.2 278.3,1511.3 279.0,1519.7 279.7,1524.8 280.4,1508.5 281.1,1510.1 281.8,1518.7 282.5,1512.5 283.2,1517.9 283.9,1513.5 284.6,1512.7 285.3,1529.6 286.0,1517.7 286.7,1514.1 287.4,1527.5 288.1,1519.9 288.8,1522.5 289.5,1514.4 290.2,1518.1 290.9,1520.8 291.6,1510.1 292.3,1515.0 293.0,1515.4 293.7,1510.1 294.4,1521.3 295.1,1516.9 295.8,1504.6 296.5,1517.3 297.2,1500.0 297.9,1501.4 298.6,1500.2 299.3,1484.0 300.0,1498.3 300.7,1484.2 301.4,1490.7 302.1,1480.3 302.8,1491.7 303.5,1477.1 304.2,1477.0 304.9,1472.9 305.6,1467.3 306.3,1460.3 307.0,1458.0 307.7,1464.4 308.4,1456.8 309.1,1447.9 309.8,1447.2 310.5,1439.6 311.2,1440.2 311.9,1441.5 312.6,1440.1 313.3,1433.5 314.0,1450.0 314.7,1449.6 315.4,1428.4 316.1,1426.9 316.8,1428.9 317.5,1393.8 318.2,1426.0 318.9,1411.1 319.6,1406.2 320.3,1421.8 321.0,1408.1 321.7,1438.6 322.4,1438.6 323.1,1409.2 323.8,1417.2 324.5,1425.8 325.2,1433.3 325.9,1410.7 326.6,1428.4 327.3,1397.3 328.0,1420.1 328.7,1412.3 329.4,1420.7 330.1,1411.6 330.8,1389.5 331.5,1431.5 332.2,1431.0 332.9,1392.8 333.6,1447.0 334.3,1403.6 335.0,1416.0 335.7,1422.8 336.4,1386.2 337.1,1427.2 337.8,1395.7 338.5,1400.3 339.2,1440.4 339.9,1437.9 340.6,1408.5 341.3,1416.5 342.0,1450.3 342.7,1421.4 343.4,1421.2 344.1,1412.9 344.8,1435.4 345.5,1417.7 346.2,1432.4 346.9,1397.9 347.6,1440.0 348.3,1457.4 349.0,1418.5 349.7,1437.7 350.4,1428.9 351.1,1463.3 351.8,1436.3 352.5,1408.1 353.2,1428.6 353.9,1428.7 354.6,1451.1 355.3,1415.9 356.0,1458.0 356.7,1441.4 357.4,1428.0 358.1,1441.9 358.8,1447.4 359.5,1438.7 360.2,1417.4 360.9,1435.4 361.6,1452.9 362.3,1434.5 363.0,1420.3 363.7,1427.9 364.4,1427.0 365.1,1411.9 365.8,1412.1 366.5,1440.4 367.2,1442.9 367.9,1418.6 368.6,1421.2 369.3,1443.4 370.0,1429.8 370.7,1422.0 371.4,1439.7 372.1,1442.4 372.8,1447.4 373.5,1436.4 374.2,1446.1 374.9,1431.6 375.6,1443.7 376.3,1431.0 377.0,1445.8 377.7,1422.9 378.4,1471.0 379.1,1443.0 379.8,1463.8 380.5,1443.4 381.2,1468.1 381.9,1455.0 382.6,1434.6 383.3,1445.2 384.0,1470.5 384.7,1464.9 385.4,1483.6 386.1,1427.8 386.8,1445.5 387.5,1434.6 388.2,1462.8 388.9,1455.8 389.6,1450.9 390.3,1483.6 391.0,1477.7 391.7,1477.5 392.4,1450.0 393.1,1485.2 393.8,1442.9 394.5,1475.8 395.2,1464.3 395.9,1453.7 396.6,1459.1 397.3,1455.7 398.0,1486.4 398.7,1453.3 399.4,1455.5 400.1,1470.4 400.8,1465.1 401.5,1468.0 402.2,1457.7 402.9,1460.6 403.6,1477.2 404.3,1465.6 405.0,1459.5 405.7,1471.6 406.4,1478.5 407.1,1488.6 407.8,1463.2 408.5,1467.4 409.2,1463.7 409.9,1449.5 410.6,1462.5 411.3,1455.8 412.0,1464.0 412.7,1455.5 413.4,1455.0 414.1,1471.9 414.8,1438.6 415.5,1456.2 416.2,1472.4 416.9,1469.7 417.6,1456.0 418.3,1469.2 419.0,1466.8 419.7,1478.2 420.4,1472.8 421.1,1475.4 421.8,1483.8 422.5,1490.2 423.2,1466.7 423.9,1452.5 424.6,1496.3 425.3,1458.5 426.0,1452.4 426.7,1460.2 427.4,1457.0 428.1,1466.2 428.8,1471.2 429.5,1457.6 430.2,1450.7 430.9,1468.8 431.6,1447.9 432.3,1456.9 433.0,1460.5 433.7,1458.7 434.4,1463.6 435.1,1446.5 435.8,1476.9 436.5,1441.9 437.2,1463.4 437.9,1471.3 438.6,1468.1 439.3,1486.2 440.0,1465.9 440.7,1467.1 441.4,1472.4 442.1,1486.6 442.8,1497.9 443.5,1500.4 444.2,1456.5 444.9,1474.1 445.6,1443.9 446.3,1473.1 447.0,1465.9 447.7,1456.0 448.4,1457.3 449.1,1474.9 449.8,1465.8 450.5,1453.9 451.2,1498.1 451.9,1451.9 452.6,1442.5 453.3,1453.9 454.0,1459.9 454.7,1471.1 455.4,1487.4 456.1,1489.5 456.8,1454.9 457.5,1489.8 458.2,1465.6 458.9,1465.9 459.6,1460.1 460.3,1446.7 461.0,1457.8 461.7,1481.0 462.4,1476.9 463.1,1470.2 463.8,1480.7 464.5,1465.5 465.2,1467.4 465.9,1488.8 466.6,1476.8 467.3,1444.3 468.0,1467.3 468.7,1465.1 469.4,1476.5 470.1,1504.9 470.8,1487.0 471.5,1457.8 472.2,1485.8 472.9,1482.7 473.6,1460.9 474.3,1471.9 475.0,1488.7 475.7,1478.1 476.4,1484.7 477.1,1485.6 477.8,1474.1 478.5,1505.4 479.2,1497.9 479.9,1463.1 480.6,1480.1 481.3,1465.8 482.0,1487.4 482.7,1485.5 483.4,1460.4 484.1,1500.0 484.8,1469.3 485.5,1486.4 486.2,1498.2 486.9,1496.4 487.6,1511.1 488.3,1469.5 489.0,1455.8 489.7,1478.9 490.4,1497.9 491.1,1473.0 491.8,1500.8 492.5,1486.9 493.2,1472.0 493.9,1473.4 494.6,1505.8 495.3,1495.5 496.0,1468.3 496.7,1469.5 497.4,1489.4 498.1,1476.1 498.8,1488.0 499.5,1465.4 500.2,1476.5 500.9,1474.6 501.6,1462.7 502.3,1483.7 503.0,1474.5 503.7,1491.7 504.4,1491.1 505.1,1476.2 505.8,1477.2 506.5,1490.1 507.2,1481.9 507.9,1468.8 508.6,1483.6 509.3,1501.9 510.0,1479.1 510.7,1461.8 511.4,1468.3 512.1,1499.5 512.8,1474.4 513.5,1456.9 514.2,1497.1 514.9,1503.8 515.6,1505.0 516.3,1486.4 517.0,1473.5 517.7,1471.1 518.4,1500.0 519.1,1498.4 519.8,1471.1 520.5,1490.1 521.2,1464.3 521.9,1497.3 522.6,1468.4 523.3,1505.4 524.0,1475.0 524.7,1470.2 525.4,1514.8 526.1,1505.8 526.8,1482.5 527.5,1521.0 528.2,1507.6 528.9,1484.2 529.6,1514.6 530.3,1505.4 531.0,1507.5 531.7,1488.5 532.4,1494.1 533.1,1490.4 533.8,1488.8 534.5,1506.0 535.2,1497.6 535.9,1496.0 536.6,1490.0 537.3,1513.8 538.0,1499.4 538.7,1497.8 539.4,1517.9 540.1,1513.1 540.8,1514.8 541.5,1501.6 542.2,1515.9 542.9,1511.0 543.6,1498.9 544.3,1514.6 545.0,1485.5 545.7,1518.5 546.4,1502.2 547.1,1521.6 547.8,1496.9 548.5,1483.2 549.2,1530.6 549.9,1513.7 550.6,1495.9 551.3,1511.7 552.0,1519.0 552.7,1533.3 553.4,1503.7 554.1,1524.5 554.8,1537.2 555.5,1495.8 556.2,1500.7 556.9,1510.1 557.6,1516.6 558.3,1526.2 559.0,1514.4 559.7,1518.8 560.4,1512.7 561.1,1520.3 561.8,1513.8 562.5,1511.0 563.2,1513.9 563.9,1499.3 564.6,1514.4 565.3,1495.4 566.0,1517.5 566.7,1494.5 567.4,1505.1 568.1,1502.4 568.8,1499.9 569.5,1514.6 570.2,1494.5 570.9,1497.6 571.6,1488.8 572.3,1507.8 573.0,1514.0 573.7,1513.7 574.4,1493.1 575.1,1515.9 575.8,1511.1 576.5,1492.0 577.2,1504.5 577.9,1495.9 578.6,1513.3 579.3,1523.0 580.0,1508.5 580.7,1512.3 581.4,1510.3 582.1,1532.7 582.8,1489.1 583.5,1507.8 584.2,1528.7 584.9,1525.2 585.6,1515.5 586.3,1503.6 587.0,1509.8 587.7,1515.2 588.4,1502.7 589.1,1503.1 589.8,1502.8 590.5,1514.5 591.2,1512.0 591.9,1504.9 592.6,1529.9 593.3,1517.6 594.0,1489.3 594.7,1513.3 595.4,1504.3 596.1,1493.5 596.8,1498.4 597.5,1497.5 598.2,1524.9 598.9,1515.6 599.6,1526.9 600.3,1514.4 601.0,1525.3 601.7,1505.0 602.4,1512.7 603.1,1507.7 603.8,1498.0 604.5,1494.3 605.2,1521.7 605.9,1518.1 606.6,1492.2 607.3,1502.2 608.0,1497.2 608.7,1496.0 609.4,1506.6 610.1,1481.3 610.8,1499.1 611.5,1482.0 612.2,1482.5 612.9,1502.9 613.6,1514.7 614.3,1482.4 615.0,1488.3 615.7,1521.2 616.4,1520.1 617.1,1505.9 617.8,1510.7 618.5,1506.5 619.2,1498.1 619.9,1490.5 620.6,1505.4 621.3,1491.3 622.0,1488.3 622.7,1511.0 623.4,1499.9 624.1,1495.8 624.8,1512.3 625.5,1509.9 626.2,1493.8 626.9,1492.8 627.6,1502.5 628.3,1501.1 629.0,1503.6 629.7,1517.4 630.4,1509.6 631.1,1487.5 631.8,1499.9 632.5,1505.9 633.2,1510.4 633.9,1493.1 634.6,1503.8 635.3,1502.6 636.0,1507.3 636.7,1527.6 637.4,1521.2 638.1,1507.5 638.8,1513.4 639.5,1514.3 640.2,1519.0 640.9,1524.0 641.6,1499.6 642.3,1503.3 643.0,1503.5 643.7,1516.7 644.4,1515.0 645.1,1514.6 645.8,1531.0 646.5,1527.0 647.2,1503.2 647.9,1498.0 648.6,1509.6 649.3,1533.8 650.0,1498.8 650.7,1513.5 651.4,1539.3 652.1,1517.9 652.8,1513.3 653.5,1520.4 654.2,1501.6 654.9,1527.4 655.6,1521.6 656.3,1527.3 657.0,1523.1 657.7,1505.6 658.4,1517.0 659.1,1503.5 659.8,1504.1 660.5,1525.9 661.2,1528.2 661.9,1531.7 662.6,1496.3 663.3,1528.1 664.0,1508.8 664.7,1504.4 665.4,1506.4 666.1,1512.3 666.8,1500.7 667.5,1518.3 668.2,1526.2 668.9,1500.7 669.6,1502.9 670.3,1500.7 671.0,1508.1 671.7,1519.0 672.4,1526.9 673.1,1504.6 673.8,1527.1 674.5,1514.7 675.2,1503.0 675.9,1505.7 676.6,1525.5 677.3,1522.6 678.0,1505.8 678.7,1482.5 679.4,1527.3 680.1,1511.4 680.8,1508.8 681.5,1507.1 682.2,1513.0 682.9,1497.8 683.6,1527.5 684.3,1513.3 685.0,1510.2 685.7,1516.6 686.4,1519.4 687.1,1485.2 687.8,1511.8 688.5,1511.5 689.2,1517.7 689.9,1490.5 690.6,1494.7 691.3,1504.3 692.0,1508.9 692.7,1486.7 693.4,1487.5 694.1,1497.1 694.8,1485.9 695.5,1519.8 696.2,1491.2 696.9,1484.0 697.6,1510.8 698.3,1500.5 699.0,1504.8 699.7,1513.8 700.4,1509.3 701.1,1515.1 701.8,1525.3 702.5,1519.8 703.2,1503.0 703.9,1509.3 704.6,1498.8 705.3,1503.8 706.0,1498.5 706.7,1523.4 707.4,1508.2 708.1,1488.8 708.8,1529.7 709.5,1516.0 710.2,1522.3 710.9,1522.2 711.6,1517.7 712.3,1513.1 713.0,1530.9 713.7,1522.5 714.4,1523.0 715.1,1505.8 715.8,1517.6 716.5,1503.2 717.2,1521.3 717.9,1523.9 718.6,1530.4 719.3,1529.9 720.0,1522.5 720.7,1529.7 721.4,1518.3 722.1,1515.6 722.8,1488.9 723.5,1493.1 724.2,1498.8 724.9,1511.4 725.6,1513.1 726.3,1510.8 727.0,1498.0 727.7,1522.4 728.4,1495.3 729.1,1494.6 729.8,1490.0 730.5,1487.5 731.2,1507.8 731.9,1521.8 732.6,1511.2 733.3,1516.3 734.0,1501.9 734.7,1518.8 735.4,1511.0 736.1,1527.2 736.8,1513.5 737.5,1512.3 738.2,1521.1 738.9,1518.1 739.6,1499.7 740.3,1511.1 741.0,1511.9 741.7,1507.9 742.4,1505.1 743.1,1502.3 743.8,1501.6 744.5,1498.8 745.2,1504.6 745.9,1506.3 746.6,1498.5 747.3,1522.3 748.0,1491.3 748.7,1513.6 749.4,1501.0 750.1,1500.0 750.8,1498.0 751.5,1514.1 752.2,1510.3 752.9,1520.1 753.6,1523.0 754.3,1502.1 755.0,1502.7 755.7,1519.3 756.4,1499.0 757.1,1516.0 757.8,1535.0 758.5,1527.1 759.2,1509.3 759.9,1513.2 760.6,1519.4 761.3,1511.3 762.0,1508.8 762.7,1514.7 763.4,1514.4 764.1,1505.5 764.8,1506.5 765.5,1523.9 766.2,1520.8 766.9,1505.6 767.6,1535.5 768.3,1509.2 769.0,1519.7 769.7,1493.1 770.4,1508.6 771.1,1495.1 771.8,1534.0 772.5,1503.5 773.2,1504.3 773.9,1496.0 774.6,1524.3 775.3,1496.5 776.0,1497.1 776.7,1512.1 777.4,1518.8 778.1,1515.4 778.8,1518.2 779.5,1492.6 780.2,1509.0 780.9,1524.9 781.6,1526.2 782.3,1525.2 783.0,1503.0 783.7,1484.0 784.4,1505.0 785.1,1478.0 785.8,1492.0 786.5,1496.6 787.2,1500.7 787.9,1511.7 788.6,1491.8 789.3,1489.1 790.0,1485.8 790.7,1518.3 791.4,1522.7 792.1,1515.3 792.8,1510.9 793.5,1510.7 794.2,1496.5 794.9,1529.6 795.6,1501.7 796.3,1514.0 797.0,1510.7 797.7,1489.3 798.4,1508.7 799.1,1507.1 799.8,1512.9 800.5,1496.6 801.2,1523.2 801.9,1515.3 802.6,1514.7 803.3,1506.4 804.0,1531.5 804.7,1501.4 805.4,1509.2 806.1,1518.9 806.8,1507.3 807.5,1527.4 808.2,1495.1 808.9,1509.5 809.6,1518.9 810.3,1529.6 811.0,1509.7 811.7,1519.1 812.4,1536.0 813.1,1509.4 813.8,1537.1 814.5,1521.0 815.2,1529.0 815.9,1527.2 816.6,1534.7 817.3,1522.2 818.0,1513.7 818.7,1511.8 819.4,1508.1 820.1,1525.0 820.8,1520.2 821.5,1518.9 822.2,1511.1 822.9,1500.4 823.6,1517.1 824.3,1524.0 825.0,1502.2 825.7,1518.4 826.4,1541.8 827.1,1509.3 827.8,1520.0 828.5,1508.1 829.2,1517.9 829.9,1516.9 830.6,1531.4 831.3,1505.9 832.0,1526.4 832.7,1505.1 833.4,1536.4 834.1,1537.2 834.8,1516.9 835.5,1508.7 836.2,1526.4 836.9,1517.9 837.6,1544.1 838.3,1503.2 839.0,1526.3 839.7,1531.5 840.4,1507.0 841.1,1519.5 841.8,1530.9 842.5,1523.4 843.2,1540.3 843.9,1521.7 844.6,1504.5 845.3,1526.4 846.0,1508.9 846.7,1519.0 847.4,1524.5 848.1,1513.6 848.8,1518.5 849.5,1516.2 850.2,1520.9 850.9,1513.4 851.6,1515.0 852.3,1496.2 853.0,1511.9 853.7,1509.2 854.4,1495.0 855.1,1508.5 855.8,1516.5 856.5,1525.0 857.2,1515.6 857.9,1524.2 858.6,1514.7 859.3,1521.3 860.0,1529.8 860.7,1538.4 861.4,1491.4 862.1,1515.1 862.8,1516.4 863.5,1533.9 864.2,1514.0 864.9,1519.6 865.6,1506.2 866.3,1520.3 867.0,1505.7 867.7,1534.9 868.4,1508.4 869.1,1509.1 869.8,1512.4 870.5,1510.3 871.2,1515.9 871.9,1503.2 872.6,1509.6 873.3,1508.4 874.0,1521.6 874.7,1509.2 875.4,1515.6 876.1,1506.3 876.8,1510.1 877.5,1510.6 878.2,1524.4 878.9,1525.6 879.6,1537.8 880.3,1535.3 881.0,1505.6 881.7,1520.7 882.4,1501.8 883.1,1522.7 883.8,1530.5 884.5,1505.7 885.2,1495.4 885.9,1517.9 886.6,1511.3 887.3,1518.6 888.0,1523.7 888.7,1521.9 889.4,1510.9 890.1,1519.4 890.8,1523.7 891.5,1511.6 892.2,1508.5 892.9,1535.7 893.6,1520.7 894.3,1531.6 895.0,1506.2 895.7,1491.3 896.4,1524.2 897.1,1517.8 897.8,1513.0 898.5,1499.9 899.2,1526.9 899.9,1500.9 900.6,1518.1 901.3,1502.3 902.0,1516.8 902.7,1521.0 903.4,1512.5 904.1,1507.4 904.8,1530.6 905.5,1513.2 906.2,1508.9 906.9,1519.2 907.6,1505.1 908.3,1522.6 909.0,1512.0 909.7,1506.6 910.4,1499.3 911.1,1508.5 911.8,1527.4 912.5,1511.6 913.2,1502.3 913.9,1530.3 914.6,1525.1 915.3,1528.7 916.0,1537.3 916.7,1519.6 917.4,1522.6 918.1,1524.7 918.8,1512.6 919.5,1498.6 920.2,1519.5 920.9,1519.8 921.6,1506.4 922.3,1528.0 923.0,1495.5 923.7,1497.7 924.4,1505.2 925.1,1507.3 925.8,1508.9 926.5,1499.2 927.2,1488.6 927.9,1510.2 928.6,1511.9 929.3,1522.1 930.0,1501.9 930.7,1513.6 931.4,1528.9 932.1,1514.8 932.8,1515.7 933.5,1508.0 934.2,1515.8 934.9,1518.8 935.6,1515.1 936.3,1504.2 937.0,1516.9 937.7,1543.0 938.4,1510.7 939.1,1507.7 939.8,1503.2 940.5,1520.8 941.2,1509.7 941.9,1514.3 942.6,1514.0 943.3,1495.4 944.0,1523.4 944.7,1516.1 945.4,1525.0 946.1,1506.4 946.8,1535.9 947.5,1518.0 948.2,1511.8 948.9,1510.1 949.6,1496.0 950.3,1519.7 951.0,1524.6 951.7,1505.6 952.4,1519.0 953.1,1524.1 953.8,1506.5 954.5,1513.7 955.2,1514.4 955.9,1507.3 956.6,1493.6 957.3,1491.9 958.0,1512.1 958.7,1526.9 959.4,1512.3 960.1,1518.0 960.8,1522.1 961.5,1508.6 962.2,1506.6 962.9,1507.0 963.6,1518.4 964.3,1533.5 965.0,1504.1 965.7,1534.6 966.4,1520.1 967.1,1506.1 967.8,1520.0 968.5,1508.0 969.2,1542.6 969.9,1511.1 970.6,1538.9 971.3,1514.4 972.0,1526.9 972.7,1517.1 973.4,1513.6 974.1,1546.3 974.8,1539.8 975.5,1526.6 976.2,1519.5 976.9,1534.4 977.6,1520.1 978.3,1507.1 979.0,1516.4 979.7,1529.3 980.4,1499.4 981.1,1510.7 981.8,1519.1 982.5,1509.1 983.2,1505.3 983.9,1518.9 984.6,1517.1 985.3,1525.8 986.0,1528.7 986.7,1511.6 987.4,1504.7 988.1,1515.6 988.8,1511.8 989.5,1516.7 990.2,1496.7 990.9,1521.8 991.6,1523.6 992.3,1515.3 993.0,1518.6 993.7,1518.6 994.4,1512.0 995.1,1508.9 995.8,1520.5 996.5,1517.0 997.2,1505.1 997.9,1515.4 998.6,1506.8 999.3,1542.7 1000.0,1527.6 1000.7,1526.5 1001.4,1515.1 1002.1,1507.4 1002.8,1515.7 1003.5,1504.8 1004.2,1525.8 1004.9,1507.9 1005.6,1518.3 1006.3,1520.1 1007.0,1509.2 1007.7,1511.8 1008.4,1514.8 1009.1,1518.5 1009.8,1515.2 1010.5,1521.0 1011.2,1517.2 1011.9,1503.4 1012.6,1528.8 1013.3,1519.5 1014.0,1520.6 1014.7,1525.2 1015.4,1542.6 1016.1,1504.5 1016.8,1513.0 1017.5,1518.4 1018.2,1499.6 1018.9,1499.1 1019.6,1506.5 1020.3,1512.3 1021.0,1531.6 1021.7,1521.6 1022.4,1527.2 1023.1,1525.2 1023.8,1523.1 1024.5,1520.7 1025.2,1491.3 1025.9,1504.0 1026.6,1507.8 1027.3,1496.7 1028.0,1501.3 1028.7,1507.2 1029.4,1497.4 1030.1,1507.3 1030.8,1501.2 1031.5,1515.2 1032.2,1512.5 1032.9,1500.1 1033.6,1501.2 1034.3,1507.1 1035.0,1498.4 1035.7,1536.7 1036.4,1529.9 1037.1,1492.5 1037.8,1506.7 1038.5,1505.3 1039.2,1514.0 1039.9,1509.6 1040.6,1545.5 1041.3,1535.3 1042.0,1513.3 1042.7,1524.7 1043.4,1508.3 1044.1,1539.7 1044.8,1508.0 1045.5,1511.1 1046.2,1514.6 1046.9,1525.3 1047.6,1525.5 1048.3,1499.0 1049.0,1498.8 1049.7,1517.1 1050.4,1512.5 1051.1,1521.7 1051.8,1517.0 1052.5,1522.2 1053.2,1523.1 1053.9,1516.1 1054.6,1501.9 1055.3,1515.4 1056.0,1511.9 1056.7,1482.1 1057.4,1494.8 1058.1,1494.7 1058.8,1516.0 1059.5,1516.8 1060.2,1498.0 1060.9,1511.7" fill="none" stroke="#606060" stroke-width="9" stroke-linejoin="miter" stroke-miterlimit="2"/>
<polyline points="265.0,1510.1 265.7,1538.7 266.4,1504.9 267.1,1538.0 267.8,1510.0 268.5,1482.4 269.2,1506.1 269.9,1551.2 270.6,1523.9 271.3,1523.5 272.0,1503.3 272.7,1497.8 273.4,1551.4 274.1,1525.0 274.8,1576.0 275.5,1531.8 276.2,1557.2 276.9,1546.1 277.6,1537.3 278.3,1559.9 279.0,1533.1 279.7,1544.1 280.4,1579.1 281.1,1537.0 281.8,1546.2 282.5,1552.2 283.2,1554.9 283.9,1545.7 284.6,1527.2 285.3,1521.8 286.0,1505.7 286.7,1536.4 287.4,1520.8 288.1,1539.5 288.8,1539.6 289.5,1516.7 290.2,1526.1 290.9,1536.7 291.6,1513.8 292.3,1548.0 293.0,1512.5 293.7,1518.5 294.4,1523.0 295.1,1567.4 295.8,1529.4 296.5,1509.3 297.2,1533.9 297.9,1553.8 298.6,1528.8 299.3,1513.6 300.0,1570.6 300.7,1506.2 301.4,1569.5 302.1,1531.9 302.8,1495.0 303.5,1507.8 304.2,1532.4 304.9,1532.3 305.6,1523.6 306.3,1559.1 307.0,1583.2 307.7,1543.4 308.4,1567.2 309.1,1580.4 309.8,1501.5 310.5,1538.0 311.2,1535.6 311.9,1531.1 312.6,1525.3 313.3,1505.6 314.0,1516.1 314.7,1543.2 315.4,1514.7 316.1,1545.6 316.8,1497.7 317.5,1520.2 318.2,1500.5 318.9,1499.3 319.6,1519.5 320.3,1514.3 321.0,1500.2 321.7,1509.4 322.4,1478.9 323.1,1501.8 323.8,1514.7 324.5,1492.8 325.2,1493.1 325.9,1520.8 326.6,1491.4 327.3,1495.6 328.0,1505.7 328.7,1510.5 329.4,1532.9 330.1,1466.8 330.8,1481.7 331.5,1508.7 332.2,1498.3 332.9,1493.5 333.6,1493.3 334.3,1479.2 335.0,1503.5 335.7,1466.0 336.4,1492.1 337.1,1514.7 337.8,1500.6 338.5,1524.7 339.2,1479.6 339.9,1521.3 340.6,1504.8 341.3,1507.5 342.0,1484.2 342.7,1508.1 343.4,1497.9 344.1,1512.6 344.8,1525.4 345.5,1486.3 346.2,1523.8 346.9,1501.4 347.6,1470.6 348.3,1492.5 349.0,1459.6 349.7,1475.9 350.4,1470.3 351.1,1449.2 351.8,1489.3 352.5,1482.3 353.2,1487.8 353.9,1526.4 354.6,1496.7 355.3,1464.2 356.0,1498.5 356.7,1519.8 357.4,1488.5 358.1,1508.4 358.8,1479.8 359.5,1500.3 360.2,1462.8 360.9,1478.3 361.6,1483.7 362.3,1517.8 363.0,1498.1 363.7,1492.2 364.4,1481.8 365.1,1507.6 365.8,1476.7 366.5,1494.4 367.2,1497.6 367.9,1466.9 368.6,1485.2 369.3,1498.5 370.0,1479.0 370.7,1518.1 371.4,1495.7 372.1,1515.7 372.8,1493.1 373.5,1500.5 374.2,1490.3 374.9,1496.5 375.6,1478.3 376.3,1490.5 377.0,1524.9 377.7,1494.2 378.4,1490.8 379.1,1514.0 379.8,1514.1 380.5,1505.5 381.2,1495.9 381.9,1492.5 382.6,1519.8 383.3,1502.6 384.0,1510.9 384.7,1496.3 385.4,1472.0 386.1,1520.4 386.8,1478.6 387.5,1475.5 388.2,1469.4 388.9,1483.0 389.6,1456.3 390.3,1479.3 391.0,1484.6 391.7,1492.6 392.4,1504.1 393.1,1466.3 393.8,1473.7 394.5,1492.2 395.2,1493.0 395.9,1495.9 396.6,1493.8 397.3,1457.5 398.0,1494.4 398.7,1506.3 399.4,1467.0 400.1,1469.3 400.8,1487.5 401.5,1497.4 402.2,1506.3 402.9,1493.9 403.6,1511.2 404.3,1496.2 405.0,1507.5 405.7,1507.8 406.4,1492.9 407.1,1485.3 407.8,1503.1 408.5,1511.8 409.2,1516.3 409.9,1507.2 410.6,1522.1 411.3,1525.3 412.0,1516.8 412.7,1544.4 413.4,1484.8 414.1,1501.7 414.8,1486.6 415.5,1511.8 416.2,1523.7 416.9,1493.2 417.6,1531.1 418.3,1510.4 419.0,1486.2 419.7,1516.2 420.4,1499.5 421.1,1521.4 421.8,1510.4 422.5,1518.3 423.2,1515.1 423.9,1522.4 424.6,1528.1 425.3,1484.1 426.0,1494.3 426.7,1523.3 427.4,1511.2 428.1,1525.6 428.8,1475.8 429.5,1506.1 430.2,1510.9 430.9,1533.0 431.6,1505.3 432.3,1471.2 433.0,1527.0 433.7,1516.0 434.4,1506.3 435.1,1493.0 435.8,1531.7 436.5,1529.3 437.2,1519.4 437.9,1467.9 438.6,1522.4 439.3,1521.0 440.0,1511.3 440.7,1514.1 441.4,1517.3 442.1,1550.7 442.8,1512.0 443.5,1517.8 444.2,1512.3 444.9,1483.3 445.6,1511.5 446.3,1507.5 447.0,1480.1 447.7,1520.3 448.4,1511.9 449.1,1530.3 449.8,1543.3 450.5,1523.2 451.2,1543.5 451.9,1489.5 452.6,1503.4 453.3,1516.1 454.0,1501.3 454.7,1515.1 455.4,1497.9 456.1,1500.1 456.8,1490.9 457.5,1513.9 458.2,1503.6 458.9,1516.6 459.6,1530.8 460.3,1526.1 461.0,1514.5 461.7,1528.5 462.4,1531.4 463.1,1502.6 463.8,1546.5 464.5,1527.6 465.2,1515.8 465.9,1528.5 466.6,1519.0 467.3,1492.3 468.0,1538.6 468.7,1493.0 469.4,1559.5 470.1,1544.7 470.8,1526.0 471.5,1553.2 472.2,1502.2 472.9,1519.3 473.6,1560.1 474.3,1536.5 475.0,1524.6 475.7,1504.1 476.4,1492.6 477.1,1497.4 477.8,1535.9 478.5,1528.2 479.2,1491.6 479.9,1509.3 480.6,1521.6 481.3,1513.4 482.0,1532.1 482.7,1535.9 483.4,1498.4 484.1,1534.8 484.8,1536.1 485.5,1571.0 486.2,1548.6 486.9,1548.2 487.6,1531.4 488.3,1550.0 489.0,1538.7 489.7,1523.5 490.4,1538.5 491.1,1540.8 491.8,1541.1 492.5,1534.5 493.2,1556.4 493.9,1536.8 494.6,1544.0 495.3,1565.2 496.0,1539.6 496.7,1555.5 497.4,1519.8 498.1,1542.2 498.8,1543.5 499.5,1548.3 500.2,1511.9 500.9,1510.6 501.6,1567.4 502.3,1556.0 503.0,1540.5 503.7,1521.3 504.4,1537.6 505.1,1549.9 505.8,1534.7 506.5,1520.6 507.2,1545.9 507.9,1526.1 508.6,1515.8 509.3,1508.1 510.0,1542.4 510.7,1515.6 511.4,1517.8 512.1,1518.8 512.8,1520.9 513.5,1533.9 514.2,1528.3 514.9,1520.6 515.6,1515.4 516.3,1532.0 517.0,1508.1 517.7,1552.0 518.4,1539.2 519.1,1500.3 519.8,1566.9 520.5,1520.3 521.2,1537.3 521.9,1567.7 522.6,1514.8 523.3,1572.4 524.0,1554.6 524.7,1511.9 525.4,1526.6 526.1,1542.2 526.8,1518.5 527.5,1556.2 528.2,1556.2 528.9,1530.2 529.6,1525.7 530.3,1550.2 531.0,1537.5 531.7,1535.2 532.4,1518.4 533.1,1520.7 533.8,1546.7 534.5,1545.1 535.2,1551.0 535.9,1526.4 536.6,1554.7 537.3,1543.7 538.0,1538.4 538.7,1524.0 539.4,1555.5 540.1,1543.5 540.8,1550.2 541.5,1540.6 542.2,1550.8 542.9,1528.3 543.6,1531.6 544.3,1537.7 545.0,1530.8 545.7,1521.7 546.4,1515.8 547.1,1557.5 547.8,1525.8 548.5,1520.4 549.2,1549.9 549.9,1540.0 550.6,1550.7 551.3,1551.8 552.0,1569.3 552.7,1545.2 553.4,1541.2 554.1,1549.1 554.8,1555.6 555.5,1565.3 556.2,1516.7 556.9,1532.6 557.6,1541.1 558.3,1541.7 559.0,1539.9 559.7,1510.3 560.4,1546.8 561.1,1523.7 561.8,1589.4 562.5,1551.6 563.2,1522.2 563.9,1531.0 564.6,1532.8 565.3,1542.7 566.0,1537.6 566.7,1547.9 567.4,1545.7 568.1,1526.4 568.8,1529.5 569.5,1546.6 570.2,1545.2 570.9,1558.9 571.6,1550.6 572.3,1552.4 573.0,1525.6 573.7,1544.8 574.4,1579.7 575.1,1558.2 575.8,1587.7 576.5,1563.1 577.2,1568.7 577.9,1558.5 578.6,1558.2 579.3,1559.8 580.0,1544.1 580.7,1564.1 581.4,1572.4 582.1,1536.7 582.8,1586.7 583.5,1565.7 584.2,1560.9 584.9,1579.5 585.6,1594.8 586.3,1568.2 587.0,1539.4 587.7,1575.1 588.4,1576.8 589.1,1567.3 589.8,1552.8 590.5,1569.3 591.2,1544.1 591.9,1588.3 592.6,1568.2 593.3,1548.2 594.0,1556.9 594.7,1545.2 595.4,1539.1 596.1,1520.9 596.8,1546.2 597.5,1552.4 598.2,1533.2 598.9,1556.3 599.6,1560.2 600.3,1560.2 601.0,1554.5 601.7,1548.0 602.4,1549.9 603.1,1533.9 603.8,1594.3 604.5,1594.7 605.2,1543.4 605.9,1544.5 606.6,1514.3 607.3,1571.0 608.0,1514.2 608.7,1531.9 609.4,1535.8 610.1,1546.4 610.8,1542.2 611.5,1548.1 612.2,1516.9 612.9,1549.1 613.6,1535.3 614.3,1531.6 615.0,1521.9 615.7,1583.0 616.4,1578.2 617.1,1555.8 617.8,1568.2 618.5,1533.8 619.2,1578.2 619.9,1568.2 620.6,1564.7 621.3,1561.5 622.0,1542.9 622.7,1549.5 623.4,1515.4 624.1,1541.6 624.8,1566.4 625.5,1522.4 626.2,1540.5 626.9,1537.1 627.6,1558.5 628.3,1553.7 629.0,1533.2 629.7,1550.4 630.4,1587.2 631.1,1563.3 631.8,1543.3 632.5,1526.3 633.2,1546.8 633.9,1563.8 634.6,1549.0 635.3,1527.0 636.0,1549.5 636.7,1547.0 637.4,1573.5 638.1,1567.3 638.8,1580.8 639.5,1555.4 640.2,1566.3 640.9,1563.4 641.6,1588.5 642.3,1533.1 643.0,1535.4 643.7,1538.0 644.4,1588.9 645.1,1533.8 645.8,1509.4 646.5,1547.7 647.2,1515.6 647.9,1561.2 648.6,1532.1 649.3,1539.3 650.0,1561.3 650.7,1554.8 651.4,1535.3 652.1,1548.9 652.8,1576.8 653.5,1565.1 654.2,1545.9 654.9,1549.5 655.6,1529.1 656.3,1548.7 657.0,1566.1 657.7,1566.5 658.4,1570.9 659.1,1568.2 659.8,1523.4 660.5,1555.1 661.2,1553.3 661.9,1553.3 662.6,1553.3 663.3,1548.4 664.0,1571.8 664.7,1537.6 665.4,1549.3 666.1,1549.8 666.8,1578.9 667.5,1541.3 668.2,1564.2 668.9,1550.5 669.6,1533.9 670.3,1562.7 671.0,1565.3 671.7,1560.5 672.4,1569.2 673.1,1546.3 673.8,1566.3 674.5,1522.5 675.2,1541.7 675.9,1543.4 676.6,1540.3 677.3,1564.1 678.0,1558.6 678.7,1522.4 679.4,1535.3 680.1,1566.4 680.8,1547.9 681.5,1563.0 682.2,1546.9 682.9,1557.8 683.6,1543.5 684.3,1547.9 685.0,1568.7 685.7,1543.1 686.4,1549.9 687.1,1594.9 687.8,1594.5 688.5,1580.9 689.2,1563.7 689.9,1540.7 690.6,1571.7 691.3,1571.6 692.0,1564.0 692.7,1575.5 693.4,1556.0 694.1,1552.9 694.8,1580.2 695.5,1567.9 696.2,1535.2 696.9,1561.4 697.6,1588.9 698.3,1559.8 699.0,1550.0 699.7,1566.2 700.4,1536.6 701.1,1523.9 701.8,1546.3 702.5,1525.8 703.2,1540.5 703.9,1578.1 704.6,1529.4 705.3,1543.9 706.0,1568.5 706.7,1540.9 707.4,1549.9 708.1,1559.3 708.8,1555.6 709.5,1554.7 710.2,1540.1 710.9,1555.2 711.6,1547.5 712.3,1547.2 713.0,1544.2 713.7,1552.9 714.4,1552.6 715.1,1511.3 715.8,1541.8 716.5,1547.5 717.2,1549.4 717.9,1567.8 718.6,1560.5 719.3,1551.2 720.0,1571.0 720.7,1551.8 721.4,1533.2 722.1,1513.1 722.8,1568.2 723.5,1545.3 724.2,1556.4 724.9,1526.9 725.6,1508.5 726.3,1571.3 727.0,1533.9 727.7,1545.7 728.4,1554.6 729.1,1565.4 729.8,1553.9 730.5,1567.8 731.2,1586.3 731.9,1556.5 732.6,1548.1 733.3,1554.3 734.0,1568.9 734.7,1554.0 735.4,1548.2 736.1,1558.7 736.8,1582.1 737.5,1536.5 738.2,1513.2 738.9,1521.6 739.6,1523.9 740.3,1536.7 741.0,1523.2 741.7,1553.7 742.4,1565.1 743.1,1582.2 743.8,1588.1 744.5,1561.2 745.2,1552.3 745.9,1530.5 746.6,1559.9 747.3,1544.5 748.0,1547.5 748.7,1542.0 749.4,1569.1 750.1,1559.0 750.8,1559.9 751.5,1564.5 752.2,1549.6 752.9,1568.8 753.6,1584.4 754.3,1561.9 755.0,1561.7 755.7,1545.5 756.4,1532.2 757.1,1558.1 757.8,1550.6 758.5,1550.8 759.2,1573.2 759.9,1540.6 760.6,1556.0 761.3,1555.5 762.0,1530.4 762.7,1542.1 763.4,1562.5 764.1,1523.5 764.8,1537.9 765.5,1510.4 766.2,1516.3 766.9,1535.1 767.6,1547.2 768.3,1523.6 769.0,1563.7 769.7,1529.0 770.4,1549.8 771.1,1522.7 771.8,1548.9 772.5,1565.4 773.2,1534.7 773.9,1524.4 774.6,1504.8 775.3,1543.1 776.0,1564.2 776.7,1540.5 777.4,1543.2 778.1,1519.0 778.8,1510.7 779.5,1517.9 780.2,1533.7 780.9,1530.3 781.6,1533.2 782.3,1536.0 783.0,1534.0 783.7,1562.4 784.4,1540.3 785.1,1550.7 785.8,1529.9 786.5,1541.2 787.2,1578.7 787.9,1573.4 788.6,1534.3 789.3,1554.0 790.0,1542.1 790.7,1571.3 791.4,1553.0 792.1,1576.1 792.8,1539.7 793.5,1544.0 794.2,1536.4 794.9,1545.8 795.6,1516.0 796.3,1516.2 797.0,1536.2 797.7,1554.9 798.4,1542.8 799.1,1514.0 799.8,1554.6 800.5,1563.1 801.2,1539.8 801.9,1523.3 802.6,1557.2 803.3,1559.2 804.0,1559.1 804.7,1547.7 805.4,1560.7 806.1,1568.1 806.8,1568.6 807.5,1536.4 808.2,1554.0 808.9,1571.8 809.6,1544.1 810.3,1551.0 811.0,1544.9 811.7,1537.5 812.4,1544.0 813.1,1560.5 813.8,1538.4 814.5,1549.1 815.2,1550.6 815.9,1562.0 816.6,1536.4 817.3,1549.1 818.0,1504.9 818.7,1537.6 819.4,1518.7 820.1,1517.0 820.8,1521.3 821.5,1544.1 822.2,1511.3 822.9,1513.1 823.6,1536.8 824.3,1548.8 825.0,1543.2 825.7,1526.3 826.4,1566.9 827.1,1555.9 827.8,1525.6 828.5,1533.0 829.2,1537.2 829.9,1534.0 830.6,1535.8 831.3,1528.7 832.0,1556.0 832.7,1549.4 833.4,1541.8 834.1,1549.0 834.8,1548.0 835.5,1544.9 836.2,1552.6 836.9,1573.0 837.6,1570.9 838.3,1532.4 839.0,1534.9 839.7,1554.4 840.4,1529.7 841.1,1560.3 841.8,1554.0 842.5,1561.6 843.2,1538.5 843.9,1553.5 844.6,1536.6 845.3,1549.6 846.0,1548.6 846.7,1567.7 847.4,1553.2 848.1,1506.9 848.8,1529.9 849.5,1532.8 850.2,1538.5 850.9,1528.1 851.6,1569.0 852.3,1548.4 853.0,1578.0 853.7,1541.4 854.4,1521.3 855.1,1570.5 855.8,1556.1 856.5,1547.5 857.2,1551.1 857.9,1573.6 858.6,1575.5 859.3,1559.5 860.0,1535.4 860.7,1519.2 861.4,1544.6 862.1,1551.2 862.8,1546.7 863.5,1552.3 864.2,1526.5 864.9,1521.8 865.6,1543.4 866.3,1545.0 867.0,1537.6 867.7,1543.1 868.4,1532.2 869.1,1504.1 869.8,1527.8 870.5,1567.1 871.2,1535.9 871.9,1569.5 872.6,1552.6 873.3,1575.1 874.0,1558.5 874.7,1579.9 875.4,1552.8 876.1,1570.7 876.8,1553.9 877.5,1548.2 878.2,1553.0 878.9,1526.3 879.6,1545.9 880.3,1547.2 881.0,1555.7 881.7,1568.6 882.4,1527.7 883.1,1545.2 883.8,1590.0 884.5,1534.9 885.2,1558.0 885.9,1558.8 886.6,1555.7 887.3,1559.8 888.0,1547.2 888.7,1516.1 889.4,1563.3 890.1,1533.4 890.8,1527.3 891.5,1531.1 892.2,1579.3 892.9,1518.5 893.6,1573.2 894.3,1525.8 895.0,1546.1 895.7,1532.6 896.4,1510.9 897.1,1539.3 897.8,1563.8 898.5,1554.6 899.2,1538.4 899.9,1541.1 900.6,1543.6 901.3,1532.1 902.0,1533.4 902.7,1541.2 903.4,1545.8 904.1,1547.3 904.8,1523.8 905.5,1543.1 906.2,1536.6 906.9,1515.2 907.6,1521.6 908.3,1557.3 909.0,1550.4 909.7,1544.4 910.4,1557.4 911.1,1550.7 911.8,1535.9 912.5,1539.8 913.2,1558.2 913.9,1542.1 914.6,1534.5 915.3,1539.2 916.0,1535.2 916.7,1551.1 917.4,1569.3 918.1,1564.9 918.8,1546.7 919.5,1522.5 920.2,1532.5 920.9,1531.7 921.6,1569.5 922.3,1572.3 923.0,1533.9 923.7,1525.5 924.4,1532.3 925.1,1562.7 925.8,1543.4 926.5,1565.4 927.2,1544.8 927.9,1539.2 928.6,1528.4 929.3,1537.4 930.0,1525.8 930.7,1557.7 931.4,1554.7 932.1,1546.4 932.8,1535.4 933.5,1554.0 934.2,1553.2 934.9,1541.5 935.6,1559.3 936.3,1568.1 937.0,1550.3 937.7,1525.0 938.4,1539.3 939.1,1565.9 939.8,1534.3 940.5,1550.7 941.2,1572.2 941.9,1528.5 942.6,1526.9 943.3,1563.8 944.0,1530.2 944.7,1555.8 945.4,1516.6 946.1,1577.2 946.8,1555.0 947.5,1576.9 948.2,1559.8 948.9,1512.9 949.6,1549.0 950.3,1552.5 951.0,1577.4 951.7,1541.1 952.4,1535.9 953.1,1552.1 953.8,1548.5 954.5,1569.0 955.2,1572.3 955.9,1571.6 956.6,1513.0 957.3,1511.5 958.0,1555.7 958.7,1559.6 959.4,1569.4 960.1,1570.7 960.8,1543.9 961.5,1540.6 962.2,1540.9 962.9,1539.5 963.6,1545.1 964.3,1544.3 965.0,1526.5 965.7,1571.5 966.4,1569.1 967.1,1540.6 967.8,1545.3 968.5,1501.3 969.2,1559.2 969.9,1513.0 970.6,1529.4 971.3,1548.9 972.0,1564.1 972.7,1528.3 973.4,1533.8 974.1,1535.4 974.8,1582.2 975.5,1530.4 976.2,1557.1 976.9,1571.7 977.6,1547.7 978.3,1538.1 979.0,1596.4 979.7,1574.9 980.4,1565.9 981.1,1569.9 981.8,1573.3 982.5,1561.1 983.2,1555.0 983.9,1562.0 984.6,1548.4 985.3,1565.0 986.0,1574.7 986.7,1558.9 987.4,1537.1 988.1,1550.5 988.8,1554.1 989.5,1565.8 990.2,1544.0 990.9,1543.4 991.6,1556.0 992.3,1566.7 993.0,1557.0 993.7,1526.4 994.4,1531.9 995.1,1572.9 995.8,1552.5 996.5,1590.0 997.2,1560.5 997.9,1558.7 998.6,1592.6 999.3,1533.7 1000.0,1554.8 1000.7,1543.8 1001.4,1541.1 1002.1,1560.3 1002.8,1556.6 1003.5,1565.0 1004.2,1585.6 1004.9,1540.0 1005.6,1526.8 1006.3,1532.8 1007.0,1563.2 1007.7,1542.7 1008.4,1558.1 1009.1,1555.2 1009.8,1557.8 1010.5,1521.9 1011.2,1532.8 1011.9,1541.6 1012.6,1525.5 1013.3,1559.2 1014.0,1542.3 1014.7,1540.4 1015.4,1561.9 1016.1,1569.3 1016.8,1522.4 1017.5,1582.6 1018.2,1559.8 1018.9,1553.3 1019.6,1574.6 1020.3,1547.0 1021.0,1563.1 1021.7,1546.2 1022.4,1546.4 1023.1,1566.7 1023.8,1528.8 1024.5,1572.2 1025.2,1553.4 1025.9,1549.7 1026.6,1560.2 1027.3,1535.9 1028.0,1591.1 1028.7,1550.7 1029.4,1554.6 1030.1,1564.7 1030.8,1557.1 1031.5,1566.3 1032.2,1515.7 1032.9,1554.9 1033.6,1528.3 1034.3,1545.2 1035.0,1545.7 1035.7,1580.1 1036.4,1538.6 1037.1,1568.8 1037.8,1562.8 1038.5,1540.3 1039.2,1563.2 1039.9,1564.8 1040.6,1543.8 1041.3,1529.5 1042.0,1564.9 1042.7,1541.1 1043.4,1556.8 1044.1,1526.4 1044.8,1534.7 1045.5,1544.4 1046.2,1535.4 1046.9,1552.1 1047.6,1543.2 1048.3,1552.0 1049.0,1562.4 1049.7,1572.4 1050.4,1554.2 1051.1,1590.8 1051.8,1551.6 1052.5,1544.9 1053.2,1520.0 1053.9,1551.4 1054.6,1561.6 1055.3,1544.1 1056.0,1547.9 1056.7,1564.3 1057.4,1562.8 1058.1,1590.4 1058.8,1577.2 1059.5,1537.9 1060.2,1578.2 1060.9,1542.3" fill="none" stroke="#d3d3d3" stroke-width="9" stroke-linejoin="miter" stroke-miterlimit="2"/>
<line x1="304.0" y1="1239.4" x2="1036.0" y2="1239.4" stroke="#000" stroke-width="9"/>
<text x="507.8" y="1217.2" font-size="44" text-anchor="start" fill="#000">GABA 100 µM</text>
<text transform="translate(29.2,1095.6) scale(0.917,1)" font-size="141.5">C</text>
<text transform="translate(126.0,1387.0) rotate(-90)" font-size="44" text-anchor="middle">F<tspan font-size="33" dy="10.7">340</tspan><tspan dy="-10.7">/F</tspan><tspan font-size="33" dy="10.7">380</tspan></text>
<text x="663.0" y="1790.7" font-size="43.5" text-anchor="middle" fill="#000">Time (sec)</text>
<line x1="584.0" y1="1354.9" x2="641.3" y2="1354.9" stroke="#d3d3d3" stroke-width="9.5"/>
<line x1="584.0" y1="1413.5" x2="641.3" y2="1413.5" stroke="#606060" stroke-width="9.5"/>
<text x="672.8" y="1370.4" font-size="44" text-anchor="start" fill="#000" textLength="337" lengthAdjust="spacingAndGlyphs">Saclofen 200 µM</text>
<text x="672.8" y="1428.7" font-size="44" text-anchor="start" fill="#000">CGP-35348 100 µM</text>
<rect x="1349.3" y="1319" width="121.7" height="350.4" fill="#000"/>
<line x1="1410.0" y1="1320.4" x2="1410.0" y2="1324.0" stroke="#000" stroke-width="9"/>
<line x1="1379.0" y1="1320.4" x2="1441.0" y2="1320.4" stroke="#000" stroke-width="9"/>
<line x1="1592.3" y1="1575.6" x2="1592.3" y2="1625.0" stroke="#000" stroke-width="9"/>
<line x1="1561.0" y1="1575.6" x2="1622.5" y2="1575.6" stroke="#000" stroke-width="9"/>
<rect x="1536.0" y="1624.9" width="112.0" height="44.5" fill="#a0a0a4" stroke="#000" stroke-width="9"/>
<line x1="1774.5" y1="1490.6" x2="1774.5" y2="1581.0" stroke="#000" stroke-width="9"/>
<line x1="1744.0" y1="1490.6" x2="1805.0" y2="1490.6" stroke="#000" stroke-width="9"/>
<rect x="1718.0" y="1581.0" width="112.5" height="88.4" fill="#808080" stroke="#000" stroke-width="9"/>
<line x1="1957.0" y1="1537.3" x2="1957.0" y2="1606.0" stroke="#000" stroke-width="9"/>
<line x1="1926.0" y1="1537.3" x2="1987.0" y2="1537.3" stroke="#000" stroke-width="9"/>
<rect x="1900.5" y="1605.5" width="113.3" height="63.9" fill="#d3d3d3" stroke="#000" stroke-width="9"/>
<line x1="1288.5" y1="1136.7" x2="1288.5" y2="1673.9" stroke="#000" stroke-width="9"/>
<line x1="1264.5" y1="1669.4" x2="2083.5" y2="1669.4" stroke="#000" stroke-width="9"/>
<line x1="1264.5" y1="1141.2" x2="1288.5" y2="1141.2" stroke="#000" stroke-width="9"/>
<line x1="1264.5" y1="1317.3" x2="1288.5" y2="1317.3" stroke="#000" stroke-width="9"/>
<line x1="1264.5" y1="1493.3" x2="1288.5" y2="1493.3" stroke="#000" stroke-width="9"/>
<line x1="1264.5" y1="1669.4" x2="1288.5" y2="1669.4" stroke="#000" stroke-width="9"/>
<line x1="1275.0" y1="1229.2" x2="1288.5" y2="1229.2" stroke="#000" stroke-width="9"/>
<line x1="1275.0" y1="1405.3" x2="1288.5" y2="1405.3" stroke="#000" stroke-width="9"/>
<line x1="1275.0" y1="1581.4" x2="1288.5" y2="1581.4" stroke="#000" stroke-width="9"/>
<text x="1258.5" y="1155.4" font-size="39.5" text-anchor="end" fill="#000">150</text>
<text x="1258.5" y="1331.5" font-size="39.5" text-anchor="end" fill="#000">100</text>
<text x="1258.5" y="1507.5" font-size="39.5" text-anchor="end" fill="#000">50</text>
<text x="1258.5" y="1683.6" font-size="39.5" text-anchor="end" fill="#000">0</text>
<line x1="1410.0" y1="1669.4" x2="1410.0" y2="1693.4" stroke="#000" stroke-width="9"/>
<line x1="1592.3" y1="1669.4" x2="1592.3" y2="1693.4" stroke="#000" stroke-width="9"/>
<line x1="1774.5" y1="1669.4" x2="1774.5" y2="1693.4" stroke="#000" stroke-width="9"/>
<line x1="1957.0" y1="1669.4" x2="1957.0" y2="1693.4" stroke="#000" stroke-width="9"/>
<polyline points="1415.8,1167.8 1415.8,1143.5 1957.4,1143.5 1957.4,1167.8" fill="none" stroke="#000" stroke-width="9" stroke-linejoin="round"/>
<polyline points="1419.8,1231.3 1419.8,1207.3 1775.4,1207.3 1775.4,1231.3" fill="none" stroke="#000" stroke-width="9" stroke-linejoin="round"/>
<polyline points="1415.8,1298.4 1415.8,1275.4 1592.5,1275.4 1592.5,1298.4" fill="none" stroke="#000" stroke-width="9" stroke-linejoin="round"/>
<text x="1695.9" y="1144.8" font-size="62" text-anchor="middle" fill="#000" style="font-weight:normal;letter-spacing:0.8px" stroke="#000" stroke-width="0.9">*</text>
<text x="1606.7" y="1211.8" font-size="62" text-anchor="middle" fill="#000" style="font-weight:normal;letter-spacing:0.8px" stroke="#000" stroke-width="0.9">*</text>
<text x="1503.7" y="1277.3" font-size="62" text-anchor="middle" fill="#000" style="font-weight:normal;letter-spacing:0.8px" stroke="#000" stroke-width="0.9">*</text>
<text x="1412.0" y="1491.0" font-size="39.5" text-anchor="middle" fill="#fff">166</text>
<text x="1592.5" y="1529.0" font-size="39.5" text-anchor="middle" fill="#000">84</text>
<text x="1773.5" y="1454.0" font-size="39.5" text-anchor="middle" fill="#000">146</text>
<text x="1956.5" y="1491.0" font-size="39.5" text-anchor="middle" fill="#000">95</text>
<text transform="translate(1152.2,1091.0) scale(0.946,1)" font-size="141.5">D</text>
<text transform="translate(1170.3,1405.7) rotate(-90)" font-size="39.4" text-anchor="middle">% Responding cells</text>
<text transform="translate(1424.8,1728.0) rotate(-45)" font-size="40.5" text-anchor="end" fill="#000">GABA</text>
<text transform="translate(1607.1,1728.0) rotate(-45)" font-size="40.5" text-anchor="end" fill="#000">Gabazine</text>
<text transform="translate(1789.3,1728.0) rotate(-45)" font-size="40.5" text-anchor="end" fill="#000">CGP-35348</text>
<text transform="translate(1971.8,1728.0) rotate(-45)" font-size="40.5" text-anchor="end" fill="#000">Saclofen</text>
<rect x="921.7" y="2240" width="116" height="328.5" fill="#000"/>
<line x1="980.5" y1="2223.8" x2="980.5" y2="2242.0" stroke="#000" stroke-width="9"/>
<line x1="951.0" y1="2223.8" x2="1010.0" y2="2223.8" stroke="#000" stroke-width="9"/>
<line x1="1153.0" y1="2446.7" x2="1153.0" y2="2472.0" stroke="#000" stroke-width="9"/>
<line x1="1123.7" y1="2446.7" x2="1182.7" y2="2446.7" stroke="#000" stroke-width="9"/>
<rect x="1099.5" y="2472.3" width="106.5" height="96.2" fill="#a0a0a4" stroke="#000" stroke-width="9"/>
<line x1="1326.0" y1="2411.0" x2="1326.0" y2="2426.0" stroke="#000" stroke-width="9"/>
<line x1="1296.8" y1="2411.0" x2="1355.8" y2="2411.0" stroke="#000" stroke-width="9"/>
<rect x="1272.7" y="2426.0" width="106.4" height="142.5" fill="#606060" stroke="#000" stroke-width="9"/>
<line x1="1499.3" y1="2490.0" x2="1499.3" y2="2498.0" stroke="#000" stroke-width="9"/>
<line x1="1470.0" y1="2490.0" x2="1528.0" y2="2490.0" stroke="#000" stroke-width="9"/>
<rect x="1445.8" y="2498.7" width="106.4" height="69.8" fill="#d3d3d3" stroke="#000" stroke-width="9"/>
<line x1="865.3" y1="2061.5" x2="865.3" y2="2573.0" stroke="#000" stroke-width="9"/>
<line x1="841.3" y1="2568.5" x2="1620.3" y2="2568.5" stroke="#000" stroke-width="9"/>
<line x1="841.3" y1="2066.0" x2="865.3" y2="2066.0" stroke="#000" stroke-width="9"/>
<line x1="841.3" y1="2233.5" x2="865.3" y2="2233.5" stroke="#000" stroke-width="9"/>
<line x1="841.3" y1="2401.0" x2="865.3" y2="2401.0" stroke="#000" stroke-width="9"/>
<line x1="841.3" y1="2568.5" x2="865.3" y2="2568.5" stroke="#000" stroke-width="9"/>
<line x1="851.8" y1="2149.8" x2="865.3" y2="2149.8" stroke="#000" stroke-width="9"/>
<line x1="851.8" y1="2317.2" x2="865.3" y2="2317.2" stroke="#000" stroke-width="9"/>
<line x1="851.8" y1="2484.8" x2="865.3" y2="2484.8" stroke="#000" stroke-width="9"/>
<text x="837.3" y="2079.5" font-size="37.5" text-anchor="end" fill="#000" style="font-weight:normal" stroke="#000" stroke-width="1.4">0.15</text>
<text x="837.3" y="2247.0" font-size="37.5" text-anchor="end" fill="#000" style="font-weight:normal" stroke="#000" stroke-width="1.4">0.10</text>
<text x="837.3" y="2414.5" font-size="37.5" text-anchor="end" fill="#000" style="font-weight:normal" stroke="#000" stroke-width="1.4">0.05</text>
<text x="837.3" y="2582.0" font-size="37.5" text-anchor="end" fill="#000" style="font-weight:normal" stroke="#000" stroke-width="1.4">0.00</text>
<line x1="980.0" y1="2568.5" x2="980.0" y2="2590.3" stroke="#000" stroke-width="9"/>
<line x1="1153.0" y1="2568.5" x2="1153.0" y2="2590.3" stroke="#000" stroke-width="9"/>
<line x1="1326.0" y1="2568.5" x2="1326.0" y2="2590.3" stroke="#000" stroke-width="9"/>
<line x1="1499.3" y1="2568.5" x2="1499.3" y2="2590.3" stroke="#000" stroke-width="9"/>
<polyline points="985.5,2077.0 985.5,2053.8 1498.5,2053.8 1498.5,2077.0" fill="none" stroke="#000" stroke-width="9" stroke-linejoin="round"/>
<polyline points="988.4,2137.8 988.4,2114.5 1326.3,2114.5 1326.3,2137.8" fill="none" stroke="#000" stroke-width="9" stroke-linejoin="round"/>
<polyline points="985.5,2201.7 985.5,2178.5 1153.3,2178.5 1153.3,2201.7" fill="none" stroke="#000" stroke-width="9" stroke-linejoin="round"/>
<text x="1251.8" y="2056.2" font-size="62" text-anchor="middle" fill="#000" style="font-weight:normal;letter-spacing:0.8px" stroke="#000" stroke-width="0.9">****</text>
<text x="1167.7" y="2119.8" font-size="62" text-anchor="middle" fill="#000" style="font-weight:normal;letter-spacing:0.8px" stroke="#000" stroke-width="0.9">****</text>
<text x="1069.7" y="2182.8" font-size="62" text-anchor="middle" fill="#000" style="font-weight:normal;letter-spacing:0.8px" stroke="#000" stroke-width="0.9">**</text>
<text x="973.7" y="2351.0" font-size="39.5" text-anchor="middle" fill="#fff">165</text>
<text x="1152.8" y="2407.5" font-size="39.5" text-anchor="middle" fill="#000">10</text>
<text x="1326.8" y="2374.4" font-size="39.5" text-anchor="middle" fill="#000">36</text>
<text x="1502.5" y="2450.2" font-size="39.5" text-anchor="middle" fill="#000">20</text>
<text transform="translate(639.0,1996.7) scale(0.942,1)" font-size="141.5">E</text>
<text transform="translate(735.8,2318.5) rotate(-90)" font-size="41.5" text-anchor="middle"><tspan font-weight="normal" stroke="#000" stroke-width="1.2">Δ</tspan>F<tspan font-size="31" font-weight="normal" stroke="#000" stroke-width="1.1" dy="9.4">340</tspan><tspan dy="-9.4">/F</tspan><tspan font-size="31" font-weight="normal" stroke="#000" stroke-width="1.1" dy="9.4">380</tspan></text>
<text transform="translate(996.7,2622.0) rotate(-45)" font-size="39.5" text-anchor="end" fill="#000">GABA</text>
<text transform="translate(1169.7,2622.0) rotate(-45)" font-size="39.5" text-anchor="end" fill="#000">Gabazine</text>
<text transform="translate(1342.7,2622.0) rotate(-45)" font-size="39.5" text-anchor="end" fill="#000">CGP-35348</text>
<text transform="translate(1507.7,2628.6) rotate(-45)" font-size="39.5" text-anchor="end" fill="#000">Saclofen</text>
</svg>
</body></html>
